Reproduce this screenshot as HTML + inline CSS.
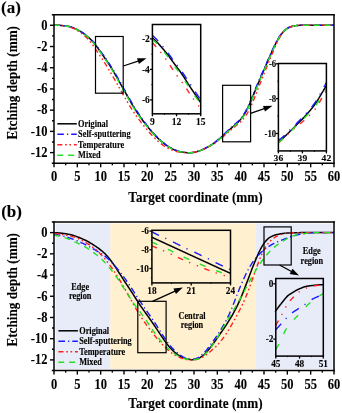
<!DOCTYPE html>
<html><head><meta charset="utf-8"><style>html,body{margin:0;padding:0;background:#fff;width:342px;height:413px;overflow:hidden}svg{display:block;will-change:transform}</style></head>
<body><svg width="342" height="413" viewBox="0 0 342 413" font-family="Liberation Serif" font-weight="bold"><rect width="342" height="413" fill="#fff"/><style>text{stroke:#000;stroke-width:0.1px;paint-order:stroke}</style><defs><clipPath id="ca"><rect x="54" y="14.7" width="280" height="148.60000000000002"/></clipPath><clipPath id="ci1"><rect x="152.4" y="24.5" width="48.29999999999998" height="89.3"/></clipPath><clipPath id="ci2"><rect x="278.4" y="63.5" width="48.0" height="87.4"/></clipPath></defs><path d="M54.00,25.30 L54.94,25.30 L55.87,25.30 L56.81,25.30 L57.75,25.31 L58.68,25.34 L59.62,25.37 L60.56,25.42 L61.49,25.48 L62.43,25.56 L63.36,25.64 L64.30,25.75 L65.24,25.87 L66.17,26.01 L67.11,26.18 L68.05,26.36 L68.98,26.57 L69.92,26.81 L70.86,27.07 L71.79,27.36 L72.73,27.67 L73.67,28.02 L74.60,28.40 L75.54,28.81 L76.47,29.25 L77.41,29.72 L78.35,30.22 L79.28,30.75 L80.22,31.31 L81.16,31.90 L82.09,32.52 L83.03,33.16 L83.97,33.82 L84.90,34.51 L85.84,35.23 L86.78,35.97 L87.71,36.75 L88.65,37.56 L89.59,38.41 L90.52,39.30 L91.46,40.24 L92.39,41.23 L93.33,42.27 L94.27,43.37 L95.20,44.53 L96.14,45.75 L97.08,47.02 L98.01,48.33 L98.95,49.67 L99.89,51.02 L100.82,52.38 L101.76,53.72 L102.70,55.06 L103.63,56.38 L104.57,57.71 L105.51,59.05 L106.44,60.41 L107.38,61.80 L108.31,63.22 L109.25,64.67 L110.19,66.15 L111.12,67.65 L112.06,69.18 L113.00,70.74 L113.93,72.32 L114.87,73.93 L115.81,75.56 L116.74,77.20 L117.68,78.85 L118.62,80.51 L119.55,82.17 L120.49,83.83 L121.42,85.50 L122.36,87.17 L123.30,88.84 L124.23,90.52 L125.17,92.19 L126.11,93.87 L127.04,95.55 L127.98,97.22 L128.92,98.88 L129.85,100.53 L130.79,102.16 L131.73,103.76 L132.66,105.35 L133.60,106.90 L134.54,108.43 L135.47,109.91 L136.41,111.37 L137.34,112.79 L138.28,114.18 L139.22,115.54 L140.15,116.87 L141.09,118.18 L142.03,119.47 L142.96,120.74 L143.90,121.98 L144.84,123.21 L145.77,124.42 L146.71,125.62 L147.65,126.79 L148.58,127.95 L149.52,129.09 L150.45,130.20 L151.39,131.29 L152.33,132.37 L153.26,133.41 L154.20,134.43 L155.14,135.43 L156.07,136.40 L157.01,137.34 L157.95,138.26 L158.88,139.15 L159.82,140.01 L160.76,140.85 L161.69,141.66 L162.63,142.44 L163.57,143.19 L164.50,143.91 L165.44,144.61 L166.37,145.28 L167.31,145.92 L168.25,146.53 L169.18,147.11 L170.12,147.67 L171.06,148.19 L171.99,148.68 L172.93,149.14 L173.87,149.57 L174.80,149.96 L175.74,150.33 L176.68,150.66 L177.61,150.96 L178.55,151.24 L179.48,151.49 L180.42,151.71 L181.36,151.90 L182.29,152.08 L183.23,152.23 L184.17,152.37 L185.10,152.48 L186.04,152.57 L186.98,152.64 L187.91,152.69 L188.85,152.71 L189.79,152.71 L190.72,152.68 L191.66,152.61 L192.60,152.52 L193.53,152.39 L194.47,152.23 L195.40,152.04 L196.34,151.82 L197.28,151.57 L198.21,151.28 L199.15,150.97 L200.09,150.63 L201.02,150.27 L201.96,149.88 L202.90,149.47 L203.83,149.04 L204.77,148.59 L205.71,148.13 L206.64,147.64 L207.58,147.14 L208.52,146.63 L209.45,146.10 L210.39,145.54 L211.32,144.97 L212.26,144.37 L213.20,143.75 L214.13,143.10 L215.07,142.42 L216.01,141.72 L216.94,140.99 L217.88,140.23 L218.82,139.45 L219.75,138.65 L220.69,137.82 L221.63,136.98 L222.56,136.12 L223.50,135.25 L224.43,134.36 L225.37,133.48 L226.31,132.60 L227.24,131.72 L228.18,130.87 L229.12,130.02 L230.05,129.19 L230.99,128.37 L231.93,127.56 L232.86,126.76 L233.80,125.96 L234.74,125.16 L235.67,124.35 L236.61,123.52 L237.55,122.66 L238.48,121.75 L239.42,120.78 L240.35,119.74 L241.29,118.61 L242.23,117.39 L243.16,116.08 L244.10,114.66 L245.04,113.12 L245.97,111.47 L246.91,109.71 L247.85,107.84 L248.78,105.86 L249.72,103.78 L250.66,101.61 L251.59,99.39 L252.53,97.14 L253.46,94.87 L254.40,92.59 L255.34,90.32 L256.27,88.06 L257.21,85.82 L258.15,83.59 L259.08,81.38 L260.02,79.17 L260.96,76.98 L261.89,74.79 L262.83,72.62 L263.77,70.45 L264.70,68.29 L265.64,66.13 L266.58,63.97 L267.51,61.81 L268.45,59.65 L269.38,57.49 L270.32,55.34 L271.26,53.20 L272.19,51.10 L273.13,49.02 L274.07,47.00 L275.00,45.03 L275.94,43.13 L276.88,41.31 L277.81,39.59 L278.75,37.99 L279.69,36.49 L280.62,35.11 L281.56,33.84 L282.49,32.68 L283.43,31.63 L284.37,30.69 L285.30,29.86 L286.24,29.13 L287.18,28.49 L288.11,27.94 L289.05,27.47 L289.99,27.07 L290.92,26.73 L291.86,26.44 L292.80,26.20 L293.73,25.99 L294.67,25.82 L295.61,25.68 L296.54,25.57 L297.48,25.48 L298.41,25.41 L299.35,25.36 L300.29,25.33 L301.22,25.31 L302.16,25.30 L303.10,25.30 L304.03,25.30 L304.97,25.30 L305.91,25.30 L306.84,25.30 L307.78,25.30 L308.72,25.30 L309.65,25.30 L310.59,25.30 L311.53,25.30 L312.46,25.30 L313.40,25.30 L314.33,25.30 L315.27,25.30 L316.21,25.30 L317.14,25.30 L318.08,25.30 L319.02,25.30 L319.95,25.30 L320.89,25.31 L321.83,25.31 L322.76,25.31 L323.70,25.31 L324.64,25.31 L325.57,25.31 L326.51,25.31 L327.44,25.31 L328.38,25.31 L329.32,25.31 L330.25,25.31 L331.19,25.30 L332.13,25.30 L333.06,25.30 L334.00,25.30" fill="none" stroke="#000" stroke-width="1.5" clip-path="url(#ca)"/><path d="M54.00,25.30 L54.94,25.30 L55.87,25.30 L56.81,25.30 L57.75,25.31 L58.68,25.34 L59.62,25.37 L60.56,25.42 L61.49,25.48 L62.43,25.55 L63.36,25.63 L64.30,25.73 L65.24,25.85 L66.17,25.99 L67.11,26.15 L68.05,26.33 L68.98,26.53 L69.92,26.76 L70.86,27.01 L71.79,27.29 L72.73,27.60 L73.67,27.93 L74.60,28.30 L75.54,28.70 L76.47,29.12 L77.41,29.58 L78.35,30.07 L79.28,30.58 L80.22,31.13 L81.16,31.69 L82.09,32.29 L83.03,32.91 L83.97,33.56 L84.90,34.22 L85.84,34.92 L86.78,35.64 L87.71,36.39 L88.65,37.18 L89.59,38.00 L90.52,38.87 L91.46,39.78 L92.39,40.74 L93.33,41.75 L94.27,42.82 L95.20,43.95 L96.14,45.14 L97.08,46.37 L98.01,47.65 L98.95,48.95 L99.89,50.27 L100.82,51.59 L101.76,52.90 L102.70,54.20 L103.63,55.50 L104.57,56.80 L105.51,58.11 L106.44,59.44 L107.38,60.81 L108.31,62.20 L109.25,63.62 L110.19,65.07 L111.12,66.55 L112.06,68.06 L113.00,69.59 L113.93,71.16 L114.87,72.75 L115.81,74.36 L116.74,75.98 L117.68,77.62 L118.62,79.26 L119.55,80.91 L120.49,82.57 L121.42,84.23 L122.36,85.89 L123.30,87.57 L124.23,89.24 L125.17,90.93 L126.11,92.61 L127.04,94.29 L127.98,95.97 L128.92,97.65 L129.85,99.31 L130.79,100.95 L131.73,102.58 L132.66,104.18 L133.60,105.75 L134.54,107.30 L135.47,108.81 L136.41,110.28 L137.34,111.73 L138.28,113.14 L139.22,114.53 L140.15,115.89 L141.09,117.23 L142.03,118.54 L142.96,119.84 L143.90,121.11 L144.84,122.37 L145.77,123.61 L146.71,124.83 L147.65,126.04 L148.58,127.22 L149.52,128.39 L150.45,129.53 L151.39,130.66 L152.33,131.76 L153.26,132.83 L154.20,133.88 L155.14,134.91 L156.07,135.90 L157.01,136.88 L157.95,137.82 L158.88,138.73 L159.82,139.62 L160.76,140.48 L161.69,141.32 L162.63,142.12 L163.57,142.90 L164.50,143.64 L165.44,144.36 L166.37,145.05 L167.31,145.71 L168.25,146.34 L169.18,146.94 L170.12,147.51 L171.06,148.05 L171.99,148.56 L172.93,149.03 L173.87,149.47 L174.80,149.88 L175.74,150.26 L176.68,150.60 L177.61,150.91 L178.55,151.20 L179.48,151.45 L180.42,151.68 L181.36,151.88 L182.29,152.06 L183.23,152.22 L184.17,152.36 L185.10,152.48 L186.04,152.57 L186.98,152.64 L187.91,152.69 L188.85,152.71 L189.79,152.71 L190.72,152.68 L191.66,152.61 L192.60,152.52 L193.53,152.39 L194.47,152.22 L195.40,152.02 L196.34,151.80 L197.28,151.53 L198.21,151.24 L199.15,150.92 L200.09,150.57 L201.02,150.20 L201.96,149.80 L202.90,149.37 L203.83,148.93 L204.77,148.47 L205.71,147.99 L206.64,147.49 L207.58,146.97 L208.52,146.44 L209.45,145.89 L210.39,145.32 L211.32,144.73 L212.26,144.11 L213.20,143.47 L214.13,142.80 L215.07,142.11 L216.01,141.38 L216.94,140.63 L217.88,139.85 L218.82,139.05 L219.75,138.22 L220.69,137.37 L221.63,136.50 L222.56,135.62 L223.50,134.72 L224.43,133.81 L225.37,132.90 L226.31,131.99 L227.24,131.10 L228.18,130.22 L229.12,129.35 L230.05,128.50 L230.99,127.66 L231.93,126.83 L232.86,126.00 L233.80,125.18 L234.74,124.36 L235.67,123.53 L236.61,122.68 L237.55,121.80 L238.48,120.87 L239.42,119.88 L240.35,118.81 L241.29,117.66 L242.23,116.42 L243.16,115.08 L244.10,113.63 L245.04,112.07 L245.97,110.39 L246.91,108.60 L247.85,106.70 L248.78,104.69 L249.72,102.59 L250.66,100.40 L251.59,98.16 L252.53,95.89 L253.46,93.61 L254.40,91.32 L255.34,89.05 L256.27,86.79 L257.21,84.55 L258.15,82.33 L259.08,80.12 L260.02,77.93 L260.96,75.76 L261.89,73.60 L262.83,71.45 L263.77,69.31 L264.70,67.18 L265.64,65.06 L266.58,62.94 L267.51,60.81 L268.45,58.69 L269.38,56.58 L270.32,54.48 L271.26,52.39 L272.19,50.34 L273.13,48.32 L274.07,46.35 L275.00,44.43 L275.94,42.58 L276.88,40.82 L277.81,39.15 L278.75,37.59 L279.69,36.14 L280.62,34.81 L281.56,33.57 L282.49,32.45 L283.43,31.43 L284.37,30.52 L285.30,29.71 L286.24,29.01 L287.18,28.39 L288.11,27.86 L289.05,27.40 L289.99,27.02 L290.92,26.69 L291.86,26.41 L292.80,26.17 L293.73,25.97 L294.67,25.80 L295.61,25.67 L296.54,25.56 L297.48,25.47 L298.41,25.41 L299.35,25.36 L300.29,25.33 L301.22,25.31 L302.16,25.30 L303.10,25.30 L304.03,25.30 L304.97,25.30 L305.91,25.30 L306.84,25.30 L307.78,25.30 L308.72,25.30 L309.65,25.30 L310.59,25.30 L311.53,25.30 L312.46,25.30 L313.40,25.30 L314.33,25.30 L315.27,25.30 L316.21,25.30 L317.14,25.30 L318.08,25.30 L319.02,25.30 L319.95,25.30 L320.89,25.31 L321.83,25.31 L322.76,25.31 L323.70,25.31 L324.64,25.31 L325.57,25.31 L326.51,25.31 L327.44,25.31 L328.38,25.31 L329.32,25.31 L330.25,25.31 L331.19,25.30 L332.13,25.30 L333.06,25.30 L334.00,25.30" fill="none" stroke="#1a1aff" stroke-width="1.4" stroke-dasharray="6.6 3.1 1.2 3.0" clip-path="url(#ca)"/><path d="M54.00,25.30 L54.94,25.30 L55.87,25.30 L56.81,25.30 L57.75,25.31 L58.68,25.35 L59.62,25.39 L60.56,25.45 L61.49,25.52 L62.43,25.60 L63.36,25.70 L64.30,25.83 L65.24,25.97 L66.17,26.14 L67.11,26.33 L68.05,26.55 L68.98,26.80 L69.92,27.07 L70.86,27.38 L71.79,27.72 L72.73,28.09 L73.67,28.50 L74.60,28.94 L75.54,29.42 L76.47,29.94 L77.41,30.49 L78.35,31.08 L79.28,31.71 L80.22,32.37 L81.16,33.06 L82.09,33.78 L83.03,34.53 L83.97,35.31 L84.90,36.12 L85.84,36.98 L86.78,37.87 L87.71,38.82 L88.65,39.81 L89.59,40.86 L90.52,41.98 L91.46,43.16 L92.39,44.42 L93.33,45.74 L94.27,47.12 L95.20,48.55 L96.14,50.00 L97.08,51.40 L98.01,52.80 L98.95,54.18 L99.89,55.56 L100.82,56.93 L101.76,58.30 L102.70,59.70 L103.63,61.12 L104.57,62.57 L105.51,64.06 L106.44,65.57 L107.38,67.11 L108.31,68.68 L109.25,70.28 L110.19,71.90 L111.12,73.48 L112.06,75.09 L113.00,76.70 L113.93,78.33 L114.87,79.96 L115.81,81.60 L116.74,83.24 L117.68,84.89 L118.62,86.53 L119.55,88.19 L120.49,89.84 L121.42,91.50 L122.36,93.16 L123.30,94.81 L124.23,96.47 L125.17,98.11 L126.11,99.74 L127.04,101.36 L127.98,102.96 L128.92,104.54 L129.85,106.09 L130.79,107.61 L131.73,109.09 L132.66,110.55 L133.60,111.97 L134.54,113.36 L135.47,114.72 L136.41,116.06 L137.34,117.37 L138.28,118.65 L139.22,119.91 L140.15,121.16 L141.09,122.38 L142.03,123.59 L142.96,124.78 L143.90,125.95 L144.84,127.11 L145.77,128.25 L146.71,129.36 L147.65,130.47 L148.58,131.57 L149.52,132.65 L150.45,133.70 L151.39,134.73 L152.33,135.73 L153.26,136.70 L154.20,137.65 L155.14,138.57 L156.07,139.46 L157.01,140.32 L157.95,141.16 L158.88,141.97 L159.82,142.74 L160.76,143.50 L161.69,144.22 L162.63,144.91 L163.57,145.57 L164.50,146.21 L165.44,146.81 L166.37,147.38 L167.31,147.90 L168.25,148.39 L169.18,148.85 L170.12,149.29 L171.06,149.69 L171.99,150.07 L172.93,150.41 L173.87,150.73 L174.80,151.01 L175.74,151.28 L176.68,151.51 L177.61,151.72 L178.55,151.91 L179.48,152.08 L180.42,152.22 L181.36,152.34 L182.29,152.44 L183.23,152.53 L184.17,152.60 L185.10,152.65 L186.04,152.69 L186.98,152.71 L187.91,152.71 L188.85,152.69 L189.79,152.65 L190.72,152.59 L191.66,152.51 L192.60,152.40 L193.53,152.26 L194.47,152.11 L195.40,151.93 L196.34,151.73 L197.28,151.51 L198.21,151.26 L199.15,150.98 L200.09,150.66 L201.02,150.32 L201.96,149.95 L202.90,149.57 L203.83,149.16 L204.77,148.74 L205.71,148.30 L206.64,147.85 L207.58,147.38 L208.52,146.90 L209.45,146.41 L210.39,145.89 L211.32,145.36 L212.26,144.81 L213.20,144.23 L214.13,143.64 L215.07,143.02 L216.01,142.37 L216.94,141.70 L217.88,141.01 L218.82,140.29 L219.75,139.55 L220.69,138.79 L221.63,138.01 L222.56,137.22 L223.50,136.40 L224.43,135.58 L225.37,134.74 L226.31,133.90 L227.24,133.07 L228.18,132.25 L229.12,131.44 L230.05,130.64 L230.99,129.86 L231.93,129.09 L232.86,128.32 L233.80,127.57 L234.74,126.82 L235.67,126.07 L236.61,125.32 L237.55,124.57 L238.48,123.80 L239.42,123.01 L240.35,122.18 L241.29,121.26 L242.23,120.26 L243.16,119.18 L244.10,118.01 L245.04,116.74 L245.97,115.37 L246.91,113.89 L247.85,112.30 L248.78,110.59 L249.72,108.77 L250.66,106.84 L251.59,104.81 L252.53,102.69 L253.46,100.49 L254.40,98.25 L255.34,95.88 L256.27,93.45 L257.21,91.02 L258.15,88.61 L259.08,86.22 L260.02,83.84 L260.96,81.47 L261.89,79.12 L262.83,76.78 L263.77,74.45 L264.70,72.14 L265.64,69.83 L266.58,67.52 L267.51,65.22 L268.45,62.92 L269.38,60.60 L270.32,58.27 L271.26,55.95 L272.19,53.65 L273.13,51.38 L274.07,49.15 L275.00,46.97 L275.94,44.86 L276.88,42.83 L277.81,40.89 L278.75,39.08 L279.69,37.39 L280.62,35.84 L281.56,34.41 L282.49,33.12 L283.43,31.95 L284.37,30.91 L285.30,29.99 L286.24,29.19 L287.18,28.50 L288.11,27.94 L289.05,27.47 L289.99,27.07 L290.92,26.73 L291.86,26.44 L292.80,26.20 L293.73,25.99 L294.67,25.82 L295.61,25.68 L296.54,25.57 L297.48,25.48 L298.41,25.41 L299.35,25.36 L300.29,25.33 L301.22,25.31 L302.16,25.30 L303.10,25.30 L304.03,25.30 L304.97,25.30 L305.91,25.30 L306.84,25.30 L307.78,25.30 L308.72,25.30 L309.65,25.30 L310.59,25.30 L311.53,25.30 L312.46,25.30 L313.40,25.30 L314.33,25.30 L315.27,25.30 L316.21,25.30 L317.14,25.30 L318.08,25.30 L319.02,25.30 L319.95,25.30 L320.89,25.31 L321.83,25.31 L322.76,25.31 L323.70,25.31 L324.64,25.31 L325.57,25.31 L326.51,25.31 L327.44,25.31 L328.38,25.31 L329.32,25.31 L330.25,25.31 L331.19,25.30 L332.13,25.30 L333.06,25.30 L334.00,25.30" fill="none" stroke="#ff2020" stroke-width="1.4" stroke-dasharray="5 2.9 1.6 2.6 1.6 2.9" clip-path="url(#ca)"/><path d="M54.00,25.30 L54.94,25.30 L55.87,25.30 L56.81,25.30 L57.75,25.31 L58.68,25.34 L59.62,25.38 L60.56,25.42 L61.49,25.49 L62.43,25.56 L63.36,25.65 L64.30,25.76 L65.24,25.88 L66.17,26.03 L67.11,26.20 L68.05,26.39 L68.98,26.60 L69.92,26.84 L70.86,27.10 L71.79,27.40 L72.73,27.72 L73.67,28.08 L74.60,28.46 L75.54,28.88 L76.47,29.33 L77.41,29.81 L78.35,30.32 L79.28,30.87 L80.22,31.44 L81.16,32.04 L82.09,32.67 L83.03,33.32 L83.97,34.00 L84.90,34.70 L85.84,35.43 L86.78,36.19 L87.71,36.98 L88.65,37.81 L89.59,38.68 L90.52,39.59 L91.46,40.54 L92.39,41.55 L93.33,42.62 L94.27,43.74 L95.20,44.92 L96.14,46.16 L97.08,47.46 L98.01,48.79 L98.95,50.15 L99.89,51.53 L100.82,52.90 L101.76,54.27 L102.70,55.62 L103.63,56.97 L104.57,58.32 L105.51,59.68 L106.44,61.06 L107.38,62.47 L108.31,63.91 L109.25,65.37 L110.19,66.86 L111.12,68.38 L112.06,69.93 L113.00,71.50 L113.93,73.10 L114.87,74.72 L115.81,76.36 L116.74,78.02 L117.68,79.67 L118.62,81.34 L119.55,83.00 L120.49,84.67 L121.42,86.34 L122.36,88.01 L123.30,89.69 L124.23,91.36 L125.17,93.04 L126.11,94.72 L127.04,96.39 L127.98,98.05 L128.92,99.70 L129.85,101.34 L130.79,102.96 L131.73,104.56 L132.66,106.13 L133.60,107.67 L134.54,109.18 L135.47,110.65 L136.41,112.09 L137.34,113.49 L138.28,114.87 L139.22,116.21 L140.15,117.53 L141.09,118.82 L142.03,120.09 L142.96,121.34 L143.90,122.56 L144.84,123.77 L145.77,124.97 L146.71,126.14 L147.65,127.30 L148.58,128.43 L149.52,129.55 L150.45,130.65 L151.39,131.72 L152.33,132.77 L153.26,133.80 L154.20,134.80 L155.14,135.78 L156.07,136.73 L157.01,137.66 L157.95,138.55 L158.88,139.43 L159.82,140.27 L160.76,141.09 L161.69,141.88 L162.63,142.65 L163.57,143.38 L164.50,144.09 L165.44,144.78 L166.37,145.43 L167.31,146.06 L168.25,146.66 L169.18,147.23 L170.12,147.77 L171.06,148.28 L171.99,148.76 L172.93,149.21 L173.87,149.63 L174.80,150.02 L175.74,150.38 L176.68,150.70 L177.61,151.00 L178.55,151.27 L179.48,151.51 L180.42,151.73 L181.36,151.92 L182.29,152.09 L183.23,152.24 L184.17,152.37 L185.10,152.48 L186.04,152.57 L186.98,152.64 L187.91,152.69 L188.85,152.71 L189.79,152.71 L190.72,152.68 L191.66,152.61 L192.60,152.52 L193.53,152.40 L194.47,152.24 L195.40,152.05 L196.34,151.84 L197.28,151.59 L198.21,151.31 L199.15,151.01 L200.09,150.68 L201.02,150.32 L201.96,149.94 L202.90,149.54 L203.83,149.12 L204.77,148.68 L205.71,148.22 L206.64,147.75 L207.58,147.26 L208.52,146.75 L209.45,146.23 L210.39,145.69 L211.32,145.13 L212.26,144.54 L213.20,143.93 L214.13,143.30 L215.07,142.64 L216.01,141.95 L216.94,141.23 L217.88,140.49 L218.82,139.72 L219.75,138.94 L220.69,138.13 L221.63,137.30 L222.56,136.46 L223.50,135.60 L224.43,134.73 L225.37,133.86 L226.31,133.00 L227.24,132.14 L228.18,131.30 L229.12,130.47 L230.05,129.66 L230.99,128.85 L231.93,128.06 L232.86,127.27 L233.80,126.48 L234.74,125.69 L235.67,124.89 L236.61,124.08 L237.55,123.23 L238.48,122.33 L239.42,121.38 L240.35,120.35 L241.29,119.24 L242.23,118.04 L243.16,116.74 L244.10,115.34 L245.04,113.82 L245.97,112.19 L246.91,110.45 L247.85,108.59 L248.78,106.63 L249.72,104.57 L250.66,102.42 L251.59,100.22 L252.53,97.97 L253.46,95.71 L254.40,93.44 L255.34,91.17 L256.27,88.91 L257.21,86.67 L258.15,84.43 L259.08,82.21 L260.02,79.99 L260.96,77.79 L261.89,75.59 L262.83,73.40 L263.77,71.22 L264.70,69.03 L265.64,66.85 L266.58,64.67 L267.51,62.48 L268.45,60.28 L269.38,58.09 L270.32,55.91 L271.26,53.74 L272.19,51.60 L273.13,49.49 L274.07,47.43 L275.00,45.42 L275.94,43.49 L276.88,41.64 L277.81,39.89 L278.75,38.25 L279.69,36.72 L280.62,35.31 L281.56,34.02 L282.49,32.84 L283.43,31.76 L284.37,30.80 L285.30,29.95 L286.24,29.21 L287.18,28.56 L288.11,28.00 L289.05,27.52 L289.99,27.11 L290.92,26.76 L291.86,26.47 L292.80,26.21 L293.73,26.00 L294.67,25.83 L295.61,25.69 L296.54,25.57 L297.48,25.48 L298.41,25.41 L299.35,25.37 L300.29,25.33 L301.22,25.31 L302.16,25.30 L303.10,25.30 L304.03,25.30 L304.97,25.30 L305.91,25.30 L306.84,25.30 L307.78,25.30 L308.72,25.30 L309.65,25.30 L310.59,25.30 L311.53,25.30 L312.46,25.30 L313.40,25.30 L314.33,25.30 L315.27,25.30 L316.21,25.30 L317.14,25.30 L318.08,25.30 L319.02,25.30 L319.95,25.30 L320.89,25.31 L321.83,25.31 L322.76,25.31 L323.70,25.31 L324.64,25.31 L325.57,25.31 L326.51,25.31 L327.44,25.31 L328.38,25.31 L329.32,25.31 L330.25,25.31 L331.19,25.30 L332.13,25.30 L333.06,25.30 L334.00,25.30" fill="none" stroke="#22e022" stroke-width="1.4" stroke-dasharray="5.8 5" clip-path="url(#ca)"/><line x1="54.00" y1="14.00" x2="54.00" y2="164.00" stroke="#000" stroke-width="1.5"/><line x1="334.00" y1="14.00" x2="334.00" y2="164.00" stroke="#000" stroke-width="1.5"/><line x1="51.80" y1="14.70" x2="334.70" y2="14.70" stroke="#000" stroke-width="1.5"/><line x1="51.80" y1="163.30" x2="334.70" y2="163.30" stroke="#000" stroke-width="1.5"/><line x1="50.00" y1="25.30" x2="54.00" y2="25.30" stroke="#000" stroke-width="1.4"/><line x1="52.00" y1="35.91" x2="54.00" y2="35.91" stroke="#000" stroke-width="1.4"/><line x1="50.00" y1="46.52" x2="54.00" y2="46.52" stroke="#000" stroke-width="1.4"/><line x1="52.00" y1="57.12" x2="54.00" y2="57.12" stroke="#000" stroke-width="1.4"/><line x1="50.00" y1="67.73" x2="54.00" y2="67.73" stroke="#000" stroke-width="1.4"/><line x1="52.00" y1="78.34" x2="54.00" y2="78.34" stroke="#000" stroke-width="1.4"/><line x1="50.00" y1="88.95" x2="54.00" y2="88.95" stroke="#000" stroke-width="1.4"/><line x1="52.00" y1="99.56" x2="54.00" y2="99.56" stroke="#000" stroke-width="1.4"/><line x1="50.00" y1="110.17" x2="54.00" y2="110.17" stroke="#000" stroke-width="1.4"/><line x1="52.00" y1="120.77" x2="54.00" y2="120.77" stroke="#000" stroke-width="1.4"/><line x1="50.00" y1="131.38" x2="54.00" y2="131.38" stroke="#000" stroke-width="1.4"/><line x1="52.00" y1="141.99" x2="54.00" y2="141.99" stroke="#000" stroke-width="1.4"/><line x1="50.00" y1="152.60" x2="54.00" y2="152.60" stroke="#000" stroke-width="1.4"/><line x1="54.00" y1="163.30" x2="54.00" y2="167.30" stroke="#000" stroke-width="1.4"/><line x1="65.67" y1="163.30" x2="65.67" y2="165.30" stroke="#000" stroke-width="1.4"/><line x1="77.33" y1="163.30" x2="77.33" y2="167.30" stroke="#000" stroke-width="1.4"/><line x1="89.00" y1="163.30" x2="89.00" y2="165.30" stroke="#000" stroke-width="1.4"/><line x1="100.67" y1="163.30" x2="100.67" y2="167.30" stroke="#000" stroke-width="1.4"/><line x1="112.33" y1="163.30" x2="112.33" y2="165.30" stroke="#000" stroke-width="1.4"/><line x1="124.00" y1="163.30" x2="124.00" y2="167.30" stroke="#000" stroke-width="1.4"/><line x1="135.67" y1="163.30" x2="135.67" y2="165.30" stroke="#000" stroke-width="1.4"/><line x1="147.33" y1="163.30" x2="147.33" y2="167.30" stroke="#000" stroke-width="1.4"/><line x1="159.00" y1="163.30" x2="159.00" y2="165.30" stroke="#000" stroke-width="1.4"/><line x1="170.67" y1="163.30" x2="170.67" y2="167.30" stroke="#000" stroke-width="1.4"/><line x1="182.33" y1="163.30" x2="182.33" y2="165.30" stroke="#000" stroke-width="1.4"/><line x1="194.00" y1="163.30" x2="194.00" y2="167.30" stroke="#000" stroke-width="1.4"/><line x1="205.67" y1="163.30" x2="205.67" y2="165.30" stroke="#000" stroke-width="1.4"/><line x1="217.33" y1="163.30" x2="217.33" y2="167.30" stroke="#000" stroke-width="1.4"/><line x1="229.00" y1="163.30" x2="229.00" y2="165.30" stroke="#000" stroke-width="1.4"/><line x1="240.67" y1="163.30" x2="240.67" y2="167.30" stroke="#000" stroke-width="1.4"/><line x1="252.33" y1="163.30" x2="252.33" y2="165.30" stroke="#000" stroke-width="1.4"/><line x1="264.00" y1="163.30" x2="264.00" y2="167.30" stroke="#000" stroke-width="1.4"/><line x1="275.67" y1="163.30" x2="275.67" y2="165.30" stroke="#000" stroke-width="1.4"/><line x1="287.33" y1="163.30" x2="287.33" y2="167.30" stroke="#000" stroke-width="1.4"/><line x1="299.00" y1="163.30" x2="299.00" y2="165.30" stroke="#000" stroke-width="1.4"/><line x1="310.67" y1="163.30" x2="310.67" y2="167.30" stroke="#000" stroke-width="1.4"/><line x1="322.33" y1="163.30" x2="322.33" y2="165.30" stroke="#000" stroke-width="1.4"/><line x1="334.00" y1="163.30" x2="334.00" y2="167.30" stroke="#000" stroke-width="1.4"/><text x="0" y="0" font-size="12.5" text-anchor="end" transform="translate(47.50,29.55) scale(1.0,1.13)" >0</text><text x="0" y="0" font-size="12.5" text-anchor="end" transform="translate(47.50,50.77) scale(1.0,1.13)" >-2</text><text x="0" y="0" font-size="12.5" text-anchor="end" transform="translate(47.50,71.98) scale(1.0,1.13)" >-4</text><text x="0" y="0" font-size="12.5" text-anchor="end" transform="translate(47.50,93.20) scale(1.0,1.13)" >-6</text><text x="0" y="0" font-size="12.5" text-anchor="end" transform="translate(47.50,114.42) scale(1.0,1.13)" >-8</text><text x="0" y="0" font-size="12.5" text-anchor="end" transform="translate(47.50,135.63) scale(1.0,1.13)" >-10</text><text x="0" y="0" font-size="12.5" text-anchor="end" transform="translate(47.50,156.85) scale(1.0,1.13)" >-12</text><text x="0" y="0" font-size="12.5" text-anchor="middle" transform="translate(54.00,181.30) scale(1.0,1.13)" >0</text><text x="0" y="0" font-size="12.5" text-anchor="middle" transform="translate(77.33,181.30) scale(1.0,1.13)" >5</text><text x="0" y="0" font-size="12.5" text-anchor="middle" transform="translate(100.67,181.30) scale(1.0,1.13)" >10</text><text x="0" y="0" font-size="12.5" text-anchor="middle" transform="translate(124.00,181.30) scale(1.0,1.13)" >15</text><text x="0" y="0" font-size="12.5" text-anchor="middle" transform="translate(147.33,181.30) scale(1.0,1.13)" >20</text><text x="0" y="0" font-size="12.5" text-anchor="middle" transform="translate(170.67,181.30) scale(1.0,1.13)" >25</text><text x="0" y="0" font-size="12.5" text-anchor="middle" transform="translate(194.00,181.30) scale(1.0,1.13)" >30</text><text x="0" y="0" font-size="12.5" text-anchor="middle" transform="translate(217.33,181.30) scale(1.0,1.13)" >35</text><text x="0" y="0" font-size="12.5" text-anchor="middle" transform="translate(240.67,181.30) scale(1.0,1.13)" >40</text><text x="0" y="0" font-size="12.5" text-anchor="middle" transform="translate(264.00,181.30) scale(1.0,1.13)" >45</text><text x="0" y="0" font-size="12.5" text-anchor="middle" transform="translate(287.33,181.30) scale(1.0,1.13)" >50</text><text x="0" y="0" font-size="12.5" text-anchor="middle" transform="translate(310.67,181.30) scale(1.0,1.13)" >55</text><text x="0" y="0" font-size="12.5" text-anchor="middle" transform="translate(334.00,181.30) scale(1.0,1.13)" >60</text><rect x="95.50" y="36.50" width="27.70" height="56.70" fill="none" stroke="#000" stroke-width="1.2"/><line x1="123.20" y1="66.00" x2="138.90" y2="60.81" stroke="#000" stroke-width="1.3"/><polygon points="146.50,58.30 138.90,63.97 137.01,58.28" fill="#000"/><rect x="222.60" y="85.30" width="28.00" height="56.50" fill="none" stroke="#000" stroke-width="1.2"/><line x1="250.60" y1="113.30" x2="264.93" y2="108.39" stroke="#000" stroke-width="1.3"/><polygon points="272.50,105.80 264.96,111.55 263.01,105.88" fill="#000"/><path d="M152.40,37.88 L152.66,38.11 L152.91,38.35 L153.17,38.58 L153.43,38.82 L153.69,39.05 L153.94,39.29 L154.20,39.52 L154.46,39.76 L154.72,40.00 L154.97,40.24 L155.23,40.48 L155.49,40.73 L155.74,40.97 L156.00,41.22 L156.26,41.47 L156.52,41.73 L156.77,41.98 L157.03,42.24 L157.29,42.51 L157.55,42.77 L157.80,43.04 L158.06,43.31 L158.32,43.59 L158.57,43.87 L158.83,44.15 L159.09,44.44 L159.35,44.72 L159.60,45.01 L159.86,45.31 L160.12,45.60 L160.38,45.90 L160.63,46.19 L160.89,46.49 L161.15,46.79 L161.41,47.09 L161.66,47.39 L161.92,47.69 L162.18,47.98 L162.43,48.28 L162.69,48.58 L162.95,48.87 L163.21,49.17 L163.46,49.46 L163.72,49.76 L163.98,50.05 L164.24,50.35 L164.49,50.65 L164.75,50.95 L165.01,51.25 L165.26,51.56 L165.52,51.87 L165.78,52.18 L166.04,52.50 L166.29,52.82 L166.55,53.14 L166.81,53.47 L167.07,53.80 L167.32,54.14 L167.58,54.48 L167.84,54.82 L168.09,55.16 L168.35,55.51 L168.61,55.86 L168.87,56.22 L169.12,56.57 L169.38,56.93 L169.64,57.29 L169.90,57.64 L170.15,58.00 L170.41,58.36 L170.67,58.72 L170.92,59.08 L171.18,59.44 L171.44,59.80 L171.70,60.16 L171.95,60.51 L172.21,60.87 L172.47,61.23 L172.73,61.58 L172.98,61.93 L173.24,62.28 L173.50,62.63 L173.75,62.97 L174.01,63.32 L174.27,63.66 L174.53,64.00 L174.78,64.34 L175.04,64.68 L175.30,65.03 L175.56,65.37 L175.81,65.71 L176.07,66.05 L176.33,66.39 L176.58,66.73 L176.84,67.07 L177.10,67.41 L177.36,67.75 L177.61,68.10 L177.87,68.44 L178.13,68.79 L178.39,69.14 L178.64,69.49 L178.90,69.84 L179.16,70.20 L179.42,70.55 L179.67,70.91 L179.93,71.27 L180.19,71.63 L180.44,71.99 L180.70,72.36 L180.96,72.73 L181.22,73.10 L181.47,73.47 L181.73,73.85 L181.99,74.23 L182.25,74.61 L182.50,74.99 L182.76,75.38 L183.02,75.76 L183.27,76.15 L183.53,76.54 L183.79,76.94 L184.05,77.33 L184.30,77.73 L184.56,78.13 L184.82,78.53 L185.08,78.93 L185.33,79.33 L185.59,79.74 L185.85,80.14 L186.10,80.55 L186.36,80.96 L186.62,81.36 L186.88,81.77 L187.13,82.18 L187.39,82.59 L187.65,82.99 L187.91,83.40 L188.16,83.81 L188.42,84.21 L188.68,84.62 L188.93,85.02 L189.19,85.42 L189.45,85.82 L189.71,86.22 L189.96,86.62 L190.22,87.02 L190.48,87.42 L190.74,87.81 L190.99,88.20 L191.25,88.60 L191.51,88.99 L191.76,89.38 L192.02,89.77 L192.28,90.15 L192.54,90.54 L192.79,90.92 L193.05,91.30 L193.31,91.68 L193.57,92.06 L193.82,92.44 L194.08,92.82 L194.34,93.19 L194.59,93.57 L194.85,93.95 L195.11,94.32 L195.37,94.70 L195.62,95.07 L195.88,95.44 L196.14,95.82 L196.40,96.19 L196.65,96.57 L196.91,96.95 L197.17,97.32 L197.43,97.70 L197.68,98.08 L197.94,98.46 L198.20,98.83 L198.45,99.21 L198.71,99.59 L198.97,99.97 L199.23,100.36 L199.48,100.74 L199.74,101.12 L200.00,101.50 L200.26,101.88 L200.51,102.26 L200.77,102.65 L201.03,103.03 L201.28,103.41 L201.54,103.79 L201.80,104.17 L202.06,104.55 L202.31,104.93 L202.57,105.31 L202.83,105.69 L203.09,106.07 L203.34,106.45 L203.60,106.83" fill="none" stroke="#000" stroke-width="1.5" clip-path="url(#ci1)"/><path d="M152.40,35.39 L152.66,35.63 L152.91,35.87 L153.17,36.11 L153.43,36.34 L153.69,36.59 L153.94,36.83 L154.20,37.07 L154.46,37.31 L154.72,37.56 L154.97,37.80 L155.23,38.05 L155.49,38.30 L155.74,38.55 L156.00,38.81 L156.26,39.06 L156.52,39.32 L156.77,39.58 L157.03,39.85 L157.29,40.12 L157.55,40.39 L157.80,40.66 L158.06,40.94 L158.32,41.22 L158.57,41.50 L158.83,41.79 L159.09,42.08 L159.35,42.38 L159.60,42.67 L159.86,42.97 L160.12,43.27 L160.38,43.57 L160.63,43.87 L160.89,44.18 L161.15,44.48 L161.41,44.78 L161.66,45.09 L161.92,45.39 L162.18,45.69 L162.43,46.00 L162.69,46.30 L162.95,46.60 L163.21,46.90 L163.46,47.20 L163.72,47.50 L163.98,47.80 L164.24,48.11 L164.49,48.41 L164.75,48.72 L165.01,49.03 L165.26,49.34 L165.52,49.65 L165.78,49.97 L166.04,50.29 L166.29,50.61 L166.55,50.94 L166.81,51.28 L167.07,51.61 L167.32,51.96 L167.58,52.30 L167.84,52.65 L168.09,53.00 L168.35,53.36 L168.61,53.71 L168.87,54.07 L169.12,54.43 L169.38,54.79 L169.64,55.16 L169.90,55.52 L170.15,55.89 L170.41,56.25 L170.67,56.62 L170.92,56.98 L171.18,57.35 L171.44,57.71 L171.70,58.07 L171.95,58.44 L172.21,58.80 L172.47,59.16 L172.73,59.51 L172.98,59.87 L173.24,60.22 L173.50,60.57 L173.75,60.92 L174.01,61.27 L174.27,61.61 L174.53,61.95 L174.78,62.29 L175.04,62.63 L175.30,62.97 L175.56,63.31 L175.81,63.65 L176.07,63.98 L176.33,64.32 L176.58,64.65 L176.84,64.98 L177.10,65.32 L177.36,65.65 L177.61,65.98 L177.87,66.32 L178.13,66.65 L178.39,66.98 L178.64,67.32 L178.90,67.65 L179.16,67.99 L179.42,68.33 L179.67,68.66 L179.93,69.01 L180.19,69.35 L180.44,69.69 L180.70,70.04 L180.96,70.39 L181.22,70.74 L181.47,71.09 L181.73,71.45 L181.99,71.80 L182.25,72.16 L182.50,72.53 L182.76,72.89 L183.02,73.26 L183.27,73.63 L183.53,74.00 L183.79,74.38 L184.05,74.75 L184.30,75.13 L184.56,75.51 L184.82,75.89 L185.08,76.27 L185.33,76.66 L185.59,77.04 L185.85,77.43 L186.10,77.81 L186.36,78.20 L186.62,78.59 L186.88,78.98 L187.13,79.38 L187.39,79.77 L187.65,80.16 L187.91,80.55 L188.16,80.95 L188.42,81.34 L188.68,81.74 L188.93,82.13 L189.19,82.52 L189.45,82.92 L189.71,83.31 L189.96,83.71 L190.22,84.10 L190.48,84.50 L190.74,84.89 L190.99,85.28 L191.25,85.68 L191.51,86.07 L191.76,86.46 L192.02,86.85 L192.28,87.24 L192.54,87.63 L192.79,88.02 L193.05,88.41 L193.31,88.80 L193.57,89.18 L193.82,89.57 L194.08,89.96 L194.34,90.34 L194.59,90.73 L194.85,91.11 L195.11,91.49 L195.37,91.88 L195.62,92.26 L195.88,92.65 L196.14,93.03 L196.40,93.42 L196.65,93.80 L196.91,94.19 L197.17,94.58 L197.43,94.96 L197.68,95.35 L197.94,95.74 L198.20,96.13 L198.45,96.52 L198.71,96.91 L198.97,97.30 L199.23,97.69 L199.48,98.08 L199.74,98.47 L200.00,98.86 L200.26,99.26 L200.51,99.65 L200.77,100.04 L201.03,100.43 L201.28,100.82 L201.54,101.21 L201.80,101.60 L202.06,101.99 L202.31,102.38 L202.57,102.77 L202.83,103.16 L203.09,103.55 L203.34,103.94 L203.60,104.33" fill="none" stroke="#1a1aff" stroke-width="1.4" stroke-dasharray="8.1 6.8 1.2 7.5" clip-path="url(#ci1)"/><path d="M152.40,42.74 L152.66,43.01 L152.91,43.27 L153.17,43.54 L153.43,43.81 L153.69,44.09 L153.94,44.36 L154.20,44.63 L154.46,44.90 L154.72,45.18 L154.97,45.46 L155.23,45.73 L155.49,46.01 L155.74,46.30 L156.00,46.58 L156.26,46.87 L156.52,47.16 L156.77,47.45 L157.03,47.75 L157.29,48.04 L157.55,48.34 L157.80,48.65 L158.06,48.96 L158.32,49.27 L158.57,49.58 L158.83,49.90 L159.09,50.23 L159.35,50.55 L159.60,50.88 L159.86,51.21 L160.12,51.54 L160.38,51.87 L160.63,52.20 L160.89,52.54 L161.15,52.87 L161.41,53.21 L161.66,53.55 L161.92,53.88 L162.18,54.22 L162.43,54.56 L162.69,54.89 L162.95,55.23 L163.21,55.56 L163.46,55.90 L163.72,56.23 L163.98,56.57 L164.24,56.91 L164.49,57.25 L164.75,57.60 L165.01,57.94 L165.26,58.29 L165.52,58.64 L165.78,58.99 L166.04,59.35 L166.29,59.71 L166.55,60.08 L166.81,60.45 L167.07,60.82 L167.32,61.20 L167.58,61.58 L167.84,61.97 L168.09,62.36 L168.35,62.75 L168.61,63.14 L168.87,63.53 L169.12,63.93 L169.38,64.32 L169.64,64.72 L169.90,65.12 L170.15,65.51 L170.41,65.91 L170.67,66.31 L170.92,66.70 L171.18,67.10 L171.44,67.49 L171.70,67.89 L171.95,68.28 L172.21,68.67 L172.47,69.06 L172.73,69.45 L172.98,69.84 L173.24,70.22 L173.50,70.60 L173.75,70.99 L174.01,71.37 L174.27,71.74 L174.53,72.12 L174.78,72.49 L175.04,72.86 L175.30,73.23 L175.56,73.60 L175.81,73.96 L176.07,74.33 L176.33,74.69 L176.58,75.04 L176.84,75.40 L177.10,75.75 L177.36,76.10 L177.61,76.45 L177.87,76.80 L178.13,77.14 L178.39,77.48 L178.64,77.83 L178.90,78.17 L179.16,78.51 L179.42,78.85 L179.67,79.19 L179.93,79.53 L180.19,79.87 L180.44,80.21 L180.70,80.55 L180.96,80.90 L181.22,81.24 L181.47,81.59 L181.73,81.94 L181.99,82.29 L182.25,82.64 L182.50,83.00 L182.76,83.35 L183.02,83.71 L183.27,84.07 L183.53,84.43 L183.79,84.80 L184.05,85.16 L184.30,85.53 L184.56,85.90 L184.82,86.28 L185.08,86.65 L185.33,87.03 L185.59,87.41 L185.85,87.79 L186.10,88.17 L186.36,88.56 L186.62,88.94 L186.88,89.33 L187.13,89.72 L187.39,90.11 L187.65,90.49 L187.91,90.88 L188.16,91.27 L188.42,91.66 L188.68,92.04 L188.93,92.43 L189.19,92.81 L189.45,93.20 L189.71,93.58 L189.96,93.96 L190.22,94.34 L190.48,94.72 L190.74,95.10 L190.99,95.48 L191.25,95.85 L191.51,96.22 L191.76,96.60 L192.02,96.96 L192.28,97.33 L192.54,97.70 L192.79,98.06 L193.05,98.42 L193.31,98.77 L193.57,99.13 L193.82,99.48 L194.08,99.83 L194.34,100.18 L194.59,100.53 L194.85,100.88 L195.11,101.22 L195.37,101.57 L195.62,101.91 L195.88,102.25 L196.14,102.59 L196.40,102.93 L196.65,103.27 L196.91,103.61 L197.17,103.95 L197.43,104.29 L197.68,104.63 L197.94,104.97 L198.20,105.31 L198.45,105.65 L198.71,105.99 L198.97,106.32 L199.23,106.66 L199.48,107.00 L199.74,107.34 L200.00,107.68 L200.26,108.02 L200.51,108.35 L200.77,108.69 L201.03,109.03 L201.28,109.37 L201.54,109.71 L201.80,110.04 L202.06,110.38 L202.31,110.72 L202.57,111.06 L202.83,111.40 L203.09,111.74 L203.34,112.07 L203.60,112.41" fill="none" stroke="#ff2020" stroke-width="1.4" stroke-dasharray="5.6 6.5 1.3 7.1 1.3 6.8" clip-path="url(#ci1)"/><path d="M152.40,39.39 L152.66,39.63 L152.91,39.87 L153.17,40.11 L153.43,40.36 L153.69,40.60 L153.94,40.84 L154.20,41.09 L154.46,41.33 L154.72,41.58 L154.97,41.83 L155.23,42.08 L155.49,42.33 L155.74,42.58 L156.00,42.84 L156.26,43.10 L156.52,43.36 L156.77,43.62 L157.03,43.89 L157.29,44.16 L157.55,44.43 L157.80,44.71 L158.06,44.99 L158.32,45.27 L158.57,45.56 L158.83,45.85 L159.09,46.14 L159.35,46.44 L159.60,46.74 L159.86,47.04 L160.12,47.34 L160.38,47.64 L160.63,47.95 L160.89,48.25 L161.15,48.56 L161.41,48.86 L161.66,49.17 L161.92,49.47 L162.18,49.78 L162.43,50.08 L162.69,50.39 L162.95,50.69 L163.21,50.99 L163.46,51.30 L163.72,51.60 L163.98,51.90 L164.24,52.21 L164.49,52.51 L164.75,52.82 L165.01,53.13 L165.26,53.45 L165.52,53.76 L165.78,54.08 L166.04,54.41 L166.29,54.73 L166.55,55.06 L166.81,55.40 L167.07,55.74 L167.32,56.08 L167.58,56.43 L167.84,56.78 L168.09,57.13 L168.35,57.49 L168.61,57.85 L168.87,58.21 L169.12,58.57 L169.38,58.94 L169.64,59.30 L169.90,59.67 L170.15,60.03 L170.41,60.40 L170.67,60.77 L170.92,61.14 L171.18,61.50 L171.44,61.87 L171.70,62.23 L171.95,62.60 L172.21,62.96 L172.47,63.32 L172.73,63.68 L172.98,64.04 L173.24,64.40 L173.50,64.75 L173.75,65.11 L174.01,65.46 L174.27,65.81 L174.53,66.15 L174.78,66.50 L175.04,66.85 L175.30,67.19 L175.56,67.54 L175.81,67.88 L176.07,68.23 L176.33,68.57 L176.58,68.92 L176.84,69.26 L177.10,69.61 L177.36,69.95 L177.61,70.30 L177.87,70.65 L178.13,70.99 L178.39,71.34 L178.64,71.70 L178.90,72.05 L179.16,72.40 L179.42,72.76 L179.67,73.11 L179.93,73.47 L180.19,73.83 L180.44,74.20 L180.70,74.56 L180.96,74.93 L181.22,75.30 L181.47,75.67 L181.73,76.05 L181.99,76.43 L182.25,76.81 L182.50,77.19 L182.76,77.58 L183.02,77.96 L183.27,78.35 L183.53,78.75 L183.79,79.14 L184.05,79.53 L184.30,79.93 L184.56,80.33 L184.82,80.73 L185.08,81.13 L185.33,81.54 L185.59,81.94 L185.85,82.35 L186.10,82.75 L186.36,83.16 L186.62,83.57 L186.88,83.98 L187.13,84.39 L187.39,84.79 L187.65,85.20 L187.91,85.61 L188.16,86.01 L188.42,86.42 L188.68,86.82 L188.93,87.23 L189.19,87.63 L189.45,88.03 L189.71,88.42 L189.96,88.82 L190.22,89.21 L190.48,89.61 L190.74,90.00 L190.99,90.39 L191.25,90.77 L191.51,91.16 L191.76,91.54 L192.02,91.91 L192.28,92.29 L192.54,92.66 L192.79,93.03 L193.05,93.40 L193.31,93.77 L193.57,94.13 L193.82,94.49 L194.08,94.85 L194.34,95.20 L194.59,95.56 L194.85,95.91 L195.11,96.26 L195.37,96.62 L195.62,96.97 L195.88,97.32 L196.14,97.67 L196.40,98.02 L196.65,98.37 L196.91,98.72 L197.17,99.07 L197.43,99.43 L197.68,99.78 L197.94,100.13 L198.20,100.49 L198.45,100.85 L198.71,101.20 L198.97,101.56 L199.23,101.92 L199.48,102.27 L199.74,102.63 L200.00,102.99 L200.26,103.35 L200.51,103.71 L200.77,104.06 L201.03,104.42 L201.28,104.78 L201.54,105.14 L201.80,105.50 L202.06,105.85 L202.31,106.21 L202.57,106.57 L202.83,106.92 L203.09,107.28 L203.34,107.63 L203.60,107.99" fill="none" stroke="#22e022" stroke-width="1.4" stroke-dasharray="6.2 11.4" clip-path="url(#ci1)"/><rect x="152.40" y="24.50" width="48.30" height="89.30" fill="none" stroke="#000" stroke-width="1.5"/><line x1="149.90" y1="38.90" x2="152.40" y2="38.90" stroke="#000" stroke-width="1.3"/><text x="0" y="0" font-size="9.5" text-anchor="end" transform="translate(149.80,42.20) scale(1.0,1.13)" >-2</text><line x1="149.90" y1="69.40" x2="152.40" y2="69.40" stroke="#000" stroke-width="1.3"/><text x="0" y="0" font-size="9.5" text-anchor="end" transform="translate(149.80,72.70) scale(1.0,1.13)" >-4</text><line x1="149.90" y1="99.90" x2="152.40" y2="99.90" stroke="#000" stroke-width="1.3"/><text x="0" y="0" font-size="9.5" text-anchor="end" transform="translate(149.80,103.20) scale(1.0,1.13)" >-6</text><line x1="151.40" y1="54.15" x2="152.40" y2="54.15" stroke="#000" stroke-width="1.0"/><line x1="151.40" y1="84.65" x2="152.40" y2="84.65" stroke="#000" stroke-width="1.0"/><line x1="152.40" y1="113.80" x2="152.40" y2="116.30" stroke="#000" stroke-width="1.3"/><text x="0" y="0" font-size="9.5" text-anchor="middle" transform="translate(152.40,125.30) scale(1.0,1.13)" >9</text><line x1="176.55" y1="113.80" x2="176.55" y2="116.30" stroke="#000" stroke-width="1.3"/><text x="0" y="0" font-size="9.5" text-anchor="middle" transform="translate(176.55,125.30) scale(1.0,1.13)" >12</text><line x1="200.70" y1="113.80" x2="200.70" y2="116.30" stroke="#000" stroke-width="1.3"/><text x="0" y="0" font-size="9.5" text-anchor="middle" transform="translate(200.70,125.30) scale(1.0,1.13)" >15</text><line x1="164.47" y1="113.80" x2="164.47" y2="114.80" stroke="#000" stroke-width="1.0"/><line x1="188.62" y1="113.80" x2="188.62" y2="114.80" stroke="#000" stroke-width="1.0"/><path d="M278.40,141.92 L278.66,141.72 L278.91,141.53 L279.17,141.33 L279.43,141.13 L279.68,140.93 L279.94,140.73 L280.19,140.53 L280.45,140.33 L280.71,140.13 L280.96,139.92 L281.22,139.72 L281.48,139.51 L281.73,139.30 L281.99,139.09 L282.24,138.87 L282.50,138.65 L282.76,138.43 L283.01,138.21 L283.27,137.98 L283.53,137.76 L283.78,137.52 L284.04,137.29 L284.29,137.05 L284.55,136.80 L284.81,136.56 L285.06,136.31 L285.32,136.05 L285.58,135.80 L285.83,135.55 L286.09,135.29 L286.34,135.03 L286.60,134.78 L286.86,134.52 L287.11,134.27 L287.37,134.01 L287.63,133.76 L287.88,133.51 L288.14,133.26 L288.39,133.02 L288.65,132.77 L288.91,132.53 L289.16,132.28 L289.42,132.04 L289.68,131.80 L289.93,131.56 L290.19,131.31 L290.45,131.07 L290.70,130.82 L290.96,130.57 L291.21,130.32 L291.47,130.07 L291.73,129.82 L291.98,129.56 L292.24,129.31 L292.50,129.05 L292.75,128.79 L293.01,128.53 L293.26,128.26 L293.52,128.00 L293.78,127.74 L294.03,127.47 L294.29,127.21 L294.55,126.94 L294.80,126.67 L295.06,126.41 L295.31,126.14 L295.57,125.88 L295.83,125.62 L296.08,125.35 L296.34,125.09 L296.60,124.83 L296.85,124.57 L297.11,124.31 L297.36,124.06 L297.62,123.80 L297.88,123.54 L298.13,123.29 L298.39,123.03 L298.65,122.77 L298.90,122.52 L299.16,122.26 L299.42,122.01 L299.67,121.75 L299.93,121.50 L300.18,121.24 L300.44,120.98 L300.70,120.72 L300.95,120.47 L301.21,120.21 L301.47,119.95 L301.72,119.68 L301.98,119.42 L302.23,119.16 L302.49,118.89 L302.75,118.62 L303.00,118.36 L303.26,118.09 L303.52,117.81 L303.77,117.54 L304.03,117.27 L304.28,116.99 L304.54,116.71 L304.80,116.44 L305.05,116.16 L305.31,115.88 L305.57,115.60 L305.82,115.31 L306.08,115.03 L306.33,114.75 L306.59,114.46 L306.85,114.17 L307.10,113.89 L307.36,113.60 L307.62,113.31 L307.87,113.02 L308.13,112.73 L308.38,112.44 L308.64,112.14 L308.90,111.85 L309.15,111.55 L309.41,111.25 L309.67,110.95 L309.92,110.65 L310.18,110.35 L310.44,110.05 L310.69,109.74 L310.95,109.43 L311.20,109.12 L311.46,108.81 L311.72,108.49 L311.97,108.17 L312.23,107.85 L312.49,107.53 L312.74,107.20 L313.00,106.88 L313.25,106.54 L313.51,106.21 L313.77,105.87 L314.02,105.53 L314.28,105.18 L314.54,104.83 L314.79,104.48 L315.05,104.12 L315.30,103.75 L315.56,103.38 L315.82,103.01 L316.07,102.63 L316.33,102.25 L316.59,101.86 L316.84,101.46 L317.10,101.06 L317.35,100.66 L317.61,100.25 L317.87,99.83 L318.12,99.41 L318.38,98.99 L318.64,98.57 L318.89,98.14 L319.15,97.71 L319.41,97.28 L319.66,96.84 L319.92,96.41 L320.17,95.97 L320.43,95.53 L320.69,95.09 L320.94,94.65 L321.20,94.22 L321.46,93.78 L321.71,93.34 L321.97,92.91 L322.22,92.48 L322.48,92.04 L322.74,91.62 L322.99,91.19 L323.25,90.76 L323.51,90.34 L323.76,89.91 L324.02,89.49 L324.27,89.07 L324.53,88.64 L324.79,88.22 L325.04,87.80 L325.30,87.38 L325.56,86.97 L325.81,86.55 L326.07,86.13 L326.32,85.71 L326.58,85.29 L326.84,84.87 L327.09,84.46 L327.35,84.04 L327.61,83.62 L327.86,83.20 L328.12,82.78 L328.37,82.36 L328.63,81.94 L328.89,81.51 L329.14,81.09 L329.40,80.66" fill="none" stroke="#000" stroke-width="1.5" clip-path="url(#ci2)"/><path d="M278.40,140.52 L278.66,140.32 L278.91,140.12 L279.17,139.93 L279.43,139.73 L279.68,139.53 L279.94,139.33 L280.19,139.13 L280.45,138.92 L280.71,138.72 L280.96,138.52 L281.22,138.31 L281.48,138.10 L281.73,137.89 L281.99,137.68 L282.24,137.46 L282.50,137.24 L282.76,137.02 L283.01,136.80 L283.27,136.57 L283.53,136.34 L283.78,136.11 L284.04,135.87 L284.29,135.63 L284.55,135.38 L284.81,135.14 L285.06,134.89 L285.32,134.63 L285.58,134.38 L285.83,134.13 L286.09,133.87 L286.34,133.61 L286.60,133.35 L286.86,133.10 L287.11,132.84 L287.37,132.59 L287.63,132.34 L287.88,132.08 L288.14,131.84 L288.39,131.59 L288.65,131.34 L288.91,131.10 L289.16,130.85 L289.42,130.61 L289.68,130.37 L289.93,130.12 L290.19,129.88 L290.45,129.63 L290.70,129.39 L290.96,129.14 L291.21,128.89 L291.47,128.64 L291.73,128.38 L291.98,128.13 L292.24,127.87 L292.50,127.61 L292.75,127.35 L293.01,127.09 L293.26,126.82 L293.52,126.56 L293.78,126.29 L294.03,126.03 L294.29,125.76 L294.55,125.50 L294.80,125.23 L295.06,124.96 L295.31,124.70 L295.57,124.43 L295.83,124.17 L296.08,123.90 L296.34,123.64 L296.60,123.38 L296.85,123.12 L297.11,122.86 L297.36,122.60 L297.62,122.35 L297.88,122.09 L298.13,121.83 L298.39,121.57 L298.65,121.32 L298.90,121.06 L299.16,120.81 L299.42,120.55 L299.67,120.29 L299.93,120.04 L300.18,119.78 L300.44,119.52 L300.70,119.26 L300.95,119.00 L301.21,118.74 L301.47,118.48 L301.72,118.22 L301.98,117.96 L302.23,117.69 L302.49,117.43 L302.75,117.16 L303.00,116.89 L303.26,116.62 L303.52,116.34 L303.77,116.07 L304.03,115.80 L304.28,115.52 L304.54,115.24 L304.80,114.96 L305.05,114.68 L305.31,114.40 L305.57,114.12 L305.82,113.84 L306.08,113.55 L306.33,113.27 L306.59,112.98 L306.85,112.70 L307.10,112.41 L307.36,112.12 L307.62,111.83 L307.87,111.54 L308.13,111.25 L308.38,110.96 L308.64,110.67 L308.90,110.37 L309.15,110.08 L309.41,109.78 L309.67,109.48 L309.92,109.18 L310.18,108.87 L310.44,108.57 L310.69,108.26 L310.95,107.95 L311.20,107.64 L311.46,107.32 L311.72,107.00 L311.97,106.68 L312.23,106.36 L312.49,106.04 L312.74,105.71 L313.00,105.37 L313.25,105.04 L313.51,104.70 L313.77,104.35 L314.02,104.01 L314.28,103.65 L314.54,103.29 L314.79,102.93 L315.05,102.56 L315.30,102.19 L315.56,101.81 L315.82,101.42 L316.07,101.03 L316.33,100.63 L316.59,100.22 L316.84,99.81 L317.10,99.39 L317.35,98.96 L317.61,98.53 L317.87,98.10 L318.12,97.65 L318.38,97.21 L318.64,96.76 L318.89,96.30 L319.15,95.84 L319.41,95.38 L319.66,94.92 L319.92,94.45 L320.17,93.98 L320.43,93.51 L320.69,93.04 L320.94,92.56 L321.20,92.09 L321.46,91.61 L321.71,91.14 L321.97,90.67 L322.22,90.20 L322.48,89.72 L322.74,89.25 L322.99,88.78 L323.25,88.32 L323.51,87.85 L323.76,87.38 L324.02,86.91 L324.27,86.45 L324.53,85.98 L324.79,85.52 L325.04,85.05 L325.30,84.59 L325.56,84.12 L325.81,83.66 L326.07,83.19 L326.32,82.73 L326.58,82.27 L326.84,81.80 L327.09,81.34 L327.35,80.87 L327.61,80.41 L327.86,79.94 L328.12,79.48 L328.37,79.01 L328.63,78.55 L328.89,78.08 L329.14,77.61 L329.40,77.15" fill="none" stroke="#1a1aff" stroke-width="1.4" stroke-dasharray="8.1 6.8 1.2 7.5" clip-path="url(#ci2)"/><path d="M278.40,142.62 L278.66,142.43 L278.91,142.23 L279.17,142.04 L279.43,141.84 L279.68,141.65 L279.94,141.45 L280.19,141.25 L280.45,141.05 L280.71,140.85 L280.96,140.65 L281.22,140.44 L281.48,140.24 L281.73,140.03 L281.99,139.82 L282.24,139.61 L282.50,139.39 L282.76,139.17 L283.01,138.95 L283.27,138.73 L283.53,138.50 L283.78,138.27 L284.04,138.03 L284.29,137.79 L284.55,137.55 L284.81,137.31 L285.06,137.06 L285.32,136.81 L285.58,136.56 L285.83,136.30 L286.09,136.05 L286.34,135.80 L286.60,135.54 L286.86,135.29 L287.11,135.04 L287.37,134.79 L287.63,134.54 L287.88,134.29 L288.14,134.05 L288.39,133.81 L288.65,133.57 L288.91,133.33 L289.16,133.10 L289.42,132.86 L289.68,132.63 L289.93,132.39 L290.19,132.16 L290.45,131.93 L290.70,131.69 L290.96,131.46 L291.21,131.23 L291.47,130.99 L291.73,130.76 L291.98,130.52 L292.24,130.28 L292.50,130.05 L292.75,129.81 L293.01,129.57 L293.26,129.34 L293.52,129.10 L293.78,128.87 L294.03,128.63 L294.29,128.40 L294.55,128.17 L294.80,127.94 L295.06,127.71 L295.31,127.48 L295.57,127.26 L295.83,127.04 L296.08,126.82 L296.34,126.60 L296.60,126.39 L296.85,126.18 L297.11,125.97 L297.36,125.77 L297.62,125.56 L297.88,125.36 L298.13,125.16 L298.39,124.96 L298.65,124.76 L298.90,124.56 L299.16,124.37 L299.42,124.17 L299.67,123.97 L299.93,123.78 L300.18,123.58 L300.44,123.38 L300.70,123.18 L300.95,122.98 L301.21,122.78 L301.47,122.58 L301.72,122.38 L301.98,122.17 L302.23,121.97 L302.49,121.76 L302.75,121.55 L303.00,121.33 L303.26,121.12 L303.52,120.90 L303.77,120.68 L304.03,120.45 L304.28,120.23 L304.54,120.00 L304.80,119.77 L305.05,119.54 L305.31,119.31 L305.57,119.08 L305.82,118.85 L306.08,118.61 L306.33,118.38 L306.59,118.14 L306.85,117.90 L307.10,117.66 L307.36,117.42 L307.62,117.18 L307.87,116.94 L308.13,116.69 L308.38,116.45 L308.64,116.20 L308.90,115.96 L309.15,115.71 L309.41,115.46 L309.67,115.21 L309.92,114.96 L310.18,114.70 L310.44,114.45 L310.69,114.19 L310.95,113.93 L311.20,113.67 L311.46,113.41 L311.72,113.15 L311.97,112.88 L312.23,112.61 L312.49,112.34 L312.74,112.07 L313.00,111.79 L313.25,111.50 L313.51,111.21 L313.77,110.92 L314.02,110.62 L314.28,110.32 L314.54,110.01 L314.79,109.69 L315.05,109.36 L315.30,109.03 L315.56,108.68 L315.82,108.33 L316.07,107.97 L316.33,107.60 L316.59,107.22 L316.84,106.83 L317.10,106.43 L317.35,106.01 L317.61,105.59 L317.87,105.17 L318.12,104.73 L318.38,104.29 L318.64,103.84 L318.89,103.39 L319.15,102.93 L319.41,102.46 L319.66,102.00 L319.92,101.53 L320.17,101.06 L320.43,100.59 L320.69,100.11 L320.94,99.64 L321.20,99.17 L321.46,98.70 L321.71,98.23 L321.97,97.76 L322.22,97.30 L322.48,96.84 L322.74,96.38 L322.99,95.93 L323.25,95.48 L323.51,95.03 L323.76,94.58 L324.02,94.14 L324.27,93.70 L324.53,93.26 L324.79,92.82 L325.04,92.38 L325.30,91.94 L325.56,91.51 L325.81,91.07 L326.07,90.64 L326.32,90.20 L326.58,89.77 L326.84,89.33 L327.09,88.90 L327.35,88.46 L327.61,88.03 L327.86,87.59 L328.12,87.15 L328.37,86.71 L328.63,86.27 L328.89,85.83 L329.14,85.38 L329.40,84.94" fill="none" stroke="#ff2020" stroke-width="1.4" stroke-dasharray="5.6 6.5 1.3 7.1 1.3 6.8" clip-path="url(#ci2)"/><path d="M278.40,142.42 L278.66,142.22 L278.91,142.03 L279.17,141.83 L279.43,141.63 L279.68,141.43 L279.94,141.23 L280.19,141.03 L280.45,140.83 L280.71,140.63 L280.96,140.42 L281.22,140.22 L281.48,140.01 L281.73,139.80 L281.99,139.59 L282.24,139.37 L282.50,139.15 L282.76,138.93 L283.01,138.71 L283.27,138.49 L283.53,138.26 L283.78,138.02 L284.04,137.79 L284.29,137.55 L284.55,137.30 L284.81,137.06 L285.06,136.81 L285.32,136.56 L285.58,136.30 L285.83,136.05 L286.09,135.79 L286.34,135.54 L286.60,135.28 L286.86,135.02 L287.11,134.77 L287.37,134.51 L287.63,134.26 L287.88,134.01 L288.14,133.76 L288.39,133.52 L288.65,133.27 L288.91,133.03 L289.16,132.78 L289.42,132.54 L289.68,132.30 L289.93,132.05 L290.19,131.81 L290.45,131.56 L290.70,131.31 L290.96,131.07 L291.21,130.82 L291.47,130.56 L291.73,130.31 L291.98,130.05 L292.24,129.79 L292.50,129.53 L292.75,129.27 L293.01,129.01 L293.26,128.75 L293.52,128.48 L293.78,128.22 L294.03,127.96 L294.29,127.69 L294.55,127.43 L294.80,127.17 L295.06,126.91 L295.31,126.65 L295.57,126.39 L295.83,126.14 L296.08,125.88 L296.34,125.63 L296.60,125.38 L296.85,125.14 L297.11,124.89 L297.36,124.65 L297.62,124.41 L297.88,124.17 L298.13,123.93 L298.39,123.69 L298.65,123.46 L298.90,123.22 L299.16,122.99 L299.42,122.76 L299.67,122.52 L299.93,122.29 L300.18,122.05 L300.44,121.82 L300.70,121.59 L300.95,121.35 L301.21,121.12 L301.47,120.88 L301.72,120.64 L301.98,120.40 L302.23,120.16 L302.49,119.92 L302.75,119.67 L303.00,119.43 L303.26,119.18 L303.52,118.93 L303.77,118.68 L304.03,118.43 L304.28,118.17 L304.54,117.92 L304.80,117.66 L305.05,117.41 L305.31,117.15 L305.57,116.89 L305.82,116.63 L306.08,116.37 L306.33,116.11 L306.59,115.85 L306.85,115.58 L307.10,115.32 L307.36,115.06 L307.62,114.80 L307.87,114.53 L308.13,114.27 L308.38,114.00 L308.64,113.74 L308.90,113.47 L309.15,113.20 L309.41,112.93 L309.67,112.66 L309.92,112.39 L310.18,112.12 L310.44,111.84 L310.69,111.57 L310.95,111.29 L311.20,111.01 L311.46,110.73 L311.72,110.44 L311.97,110.15 L312.23,109.87 L312.49,109.58 L312.74,109.28 L313.00,108.98 L313.25,108.68 L313.51,108.38 L313.77,108.07 L314.02,107.76 L314.28,107.45 L314.54,107.13 L314.79,106.80 L315.05,106.47 L315.30,106.14 L315.56,105.80 L315.82,105.45 L316.07,105.10 L316.33,104.74 L316.59,104.38 L316.84,104.01 L317.10,103.63 L317.35,103.25 L317.61,102.87 L317.87,102.47 L318.12,102.08 L318.38,101.68 L318.64,101.27 L318.89,100.86 L319.15,100.45 L319.41,100.04 L319.66,99.63 L319.92,99.21 L320.17,98.79 L320.43,98.37 L320.69,97.95 L320.94,97.53 L321.20,97.11 L321.46,96.69 L321.71,96.27 L321.97,95.85 L322.22,95.43 L322.48,95.02 L322.74,94.60 L322.99,94.19 L323.25,93.78 L323.51,93.37 L323.76,92.96 L324.02,92.55 L324.27,92.14 L324.53,91.74 L324.79,91.33 L325.04,90.93 L325.30,90.52 L325.56,90.12 L325.81,89.71 L326.07,89.31 L326.32,88.91 L326.58,88.50 L326.84,88.10 L327.09,87.70 L327.35,87.29 L327.61,86.89 L327.86,86.48 L328.12,86.08 L328.37,85.67 L328.63,85.27 L328.89,84.86 L329.14,84.45 L329.40,84.04" fill="none" stroke="#22e022" stroke-width="1.4" stroke-dasharray="6.2 11.4" clip-path="url(#ci2)"/><rect x="278.40" y="63.50" width="48.00" height="87.40" fill="none" stroke="#000" stroke-width="1.5"/><line x1="275.90" y1="63.80" x2="278.40" y2="63.80" stroke="#000" stroke-width="1.3"/><text x="0" y="0" font-size="8.8" text-anchor="end" transform="translate(276.20,66.80) scale(1.0,1.13)" >-6</text><line x1="275.90" y1="98.65" x2="278.40" y2="98.65" stroke="#000" stroke-width="1.3"/><text x="0" y="0" font-size="8.8" text-anchor="end" transform="translate(276.20,101.65) scale(1.0,1.13)" >-8</text><line x1="275.90" y1="133.50" x2="278.40" y2="133.50" stroke="#000" stroke-width="1.3"/><text x="0" y="0" font-size="8.8" text-anchor="end" transform="translate(276.20,136.50) scale(1.0,1.13)" >-10</text><line x1="277.40" y1="81.22" x2="278.40" y2="81.22" stroke="#000" stroke-width="1.0"/><line x1="277.40" y1="116.08" x2="278.40" y2="116.08" stroke="#000" stroke-width="1.0"/><line x1="277.40" y1="150.93" x2="278.40" y2="150.93" stroke="#000" stroke-width="1.0"/><line x1="278.40" y1="150.90" x2="278.40" y2="153.40" stroke="#000" stroke-width="1.3"/><text x="0" y="0" font-size="8" text-anchor="middle" transform="translate(278.40,161.00) scale(1.2,1.13)" >36</text><line x1="302.40" y1="150.90" x2="302.40" y2="153.40" stroke="#000" stroke-width="1.3"/><text x="0" y="0" font-size="8" text-anchor="middle" transform="translate(302.40,161.00) scale(1.2,1.13)" >39</text><line x1="326.40" y1="150.90" x2="326.40" y2="153.40" stroke="#000" stroke-width="1.3"/><text x="0" y="0" font-size="8" text-anchor="middle" transform="translate(326.40,161.00) scale(1.2,1.13)" >42</text><line x1="290.40" y1="150.90" x2="290.40" y2="151.90" stroke="#000" stroke-width="1.0"/><line x1="314.40" y1="150.90" x2="314.40" y2="151.90" stroke="#000" stroke-width="1.0"/><path d="M57.30,123.80 H76.80" fill="none" stroke="#000" stroke-width="1.5"/><text x="0" y="0" font-size="8.3" text-anchor="start" transform="translate(78.10,126.70) scale(1.0,1.13)" >Original</text><path d="M57.30,134.30 H76.80" fill="none" stroke="#1a1aff" stroke-width="1.4" stroke-dasharray="6.6 3.1 1.2 3.0"/><text x="0" y="0" font-size="8.3" text-anchor="start" transform="translate(78.10,137.20) scale(1.0,1.13)" >Self-sputtering</text><path d="M57.30,144.80 H76.80" fill="none" stroke="#ff2020" stroke-width="1.4" stroke-dasharray="5 2.9 1.6 2.6 1.6 2.9"/><text x="0" y="0" font-size="8.3" text-anchor="start" transform="translate(78.10,147.70) scale(1.0,1.13)" >Temperature</text><path d="M57.30,155.30 H76.80" fill="none" stroke="#22e022" stroke-width="1.4" stroke-dasharray="5.8 5"/><text x="0" y="0" font-size="8.3" text-anchor="start" transform="translate(78.10,158.20) scale(1.0,1.13)" >Mixed</text><text x="0" y="0" font-size="17" text-anchor="start" transform="translate(1.00,12.90) scale(1.0,1.0)" >(a)</text><text x="0" y="0" font-size="13.2" text-anchor="middle" transform="translate(17.0,82.8) rotate(-90) scale(1,1.13)">Etching depth (mm)</text><text x="0" y="0" font-size="13.2" text-anchor="middle" transform="translate(195.50,201.70) scale(1.0,1.13)" >Target coordinate (mm)</text><rect x="55.6" y="223.5" width="54.699999999999996" height="145.5" fill="#e8ebf8"/><rect x="110.3" y="223.5" width="145.8" height="145.5" fill="#fff0cf"/><rect x="256.1" y="223.5" width="76.5" height="145.5" fill="#e8ebf8"/><defs><clipPath id="cb"><rect x="54" y="222.0" width="280" height="148.60000000000002"/></clipPath><clipPath id="cj1"><rect x="151.9" y="230.3" width="78.6" height="52.599999999999966"/></clipPath><clipPath id="cj2"><rect x="275.8" y="278.5" width="47.5" height="77.60000000000002"/></clipPath></defs><text x="0" y="0" font-size="8.3" text-anchor="middle" transform="translate(80.20,289.60) scale(1.0,1.13)" >Edge</text><text x="0" y="0" font-size="8.3" text-anchor="middle" transform="translate(80.20,298.80) scale(1.0,1.13)" >region</text><text x="0" y="0" font-size="8.3" text-anchor="middle" transform="translate(192.00,318.60) scale(1.0,1.13)" >Central</text><text x="0" y="0" font-size="8.3" text-anchor="middle" transform="translate(192.00,327.80) scale(1.0,1.13)" >region</text><text x="0" y="0" font-size="8.3" text-anchor="middle" transform="translate(311.80,254.40) scale(1.0,1.13)" >Edge</text><text x="0" y="0" font-size="8.3" text-anchor="middle" transform="translate(311.80,263.60) scale(1.0,1.13)" >region</text><path d="M54.00,232.60 L54.94,232.63 L55.87,232.71 L56.81,232.78 L57.75,232.86 L58.68,232.94 L59.62,233.03 L60.56,233.12 L61.49,233.22 L62.43,233.33 L63.36,233.44 L64.30,233.57 L65.24,233.71 L66.17,233.85 L67.11,234.02 L68.05,234.19 L68.98,234.38 L69.92,234.59 L70.86,234.81 L71.79,235.04 L72.73,235.30 L73.67,235.57 L74.60,235.85 L75.54,236.16 L76.47,236.48 L77.41,236.83 L78.35,237.18 L79.28,237.55 L80.22,237.93 L81.16,238.32 L82.09,238.72 L83.03,239.13 L83.97,239.56 L84.90,240.00 L85.84,240.46 L86.78,240.94 L87.71,241.43 L88.65,241.95 L89.59,242.48 L90.52,243.03 L91.46,243.59 L92.39,244.17 L93.33,244.77 L94.27,245.38 L95.20,246.00 L96.14,246.64 L97.08,247.28 L98.01,247.94 L98.95,248.62 L99.89,249.32 L100.82,250.05 L101.76,250.80 L102.70,251.60 L103.63,252.43 L104.57,253.32 L105.51,254.25 L106.44,255.24 L107.38,256.29 L108.31,257.38 L109.25,258.52 L110.19,259.71 L111.12,260.94 L112.06,262.22 L113.00,263.55 L113.93,264.90 L114.87,266.29 L115.81,267.71 L116.74,269.14 L117.68,270.58 L118.62,272.04 L119.55,273.49 L120.49,274.96 L121.42,276.42 L122.36,277.89 L123.30,279.35 L124.23,280.81 L125.17,282.26 L126.11,283.69 L127.04,285.12 L127.98,286.53 L128.92,287.93 L129.85,289.33 L130.79,290.73 L131.73,292.15 L132.66,293.58 L133.60,295.04 L134.54,296.52 L135.47,298.00 L136.41,299.48 L137.34,300.95 L138.28,302.40 L139.22,303.82 L140.15,305.22 L141.09,306.59 L142.03,307.94 L142.96,309.28 L143.90,310.60 L144.84,311.91 L145.77,313.22 L146.71,314.53 L147.65,315.84 L148.58,317.15 L149.52,318.47 L150.45,319.80 L151.39,321.14 L152.33,322.49 L153.26,323.86 L154.20,325.23 L155.14,326.63 L156.07,328.04 L157.01,329.45 L157.95,330.87 L158.88,332.29 L159.82,333.71 L160.76,335.12 L161.69,336.52 L162.63,337.90 L163.57,339.26 L164.50,340.59 L165.44,341.88 L166.37,343.14 L167.31,344.36 L168.25,345.53 L169.18,346.66 L170.12,347.74 L171.06,348.77 L171.99,349.75 L172.93,350.67 L173.87,351.54 L174.80,352.35 L175.74,353.12 L176.68,353.83 L177.61,354.50 L178.55,355.13 L179.48,355.71 L180.42,356.26 L181.36,356.76 L182.29,357.22 L183.23,357.64 L184.17,358.02 L185.10,358.36 L186.04,358.67 L186.98,358.93 L187.91,359.16 L188.85,359.34 L189.79,359.48 L190.72,359.58 L191.66,359.63 L192.60,359.63 L193.53,359.57 L194.47,359.47 L195.40,359.31 L196.34,359.09 L197.28,358.81 L198.21,358.46 L199.15,358.04 L200.09,357.55 L201.02,356.99 L201.96,356.35 L202.90,355.63 L203.83,354.84 L204.77,353.98 L205.71,353.05 L206.64,352.06 L207.58,351.01 L208.52,349.89 L209.45,348.73 L210.39,347.53 L211.32,346.29 L212.26,345.02 L213.20,343.73 L214.13,342.42 L215.07,341.09 L216.01,339.76 L216.94,338.42 L217.88,337.07 L218.82,335.73 L219.75,334.39 L220.69,333.05 L221.63,331.71 L222.56,330.35 L223.50,328.99 L224.43,327.61 L225.37,326.21 L226.31,324.79 L227.24,323.34 L228.18,321.88 L229.12,320.39 L230.05,318.88 L230.99,317.34 L231.93,315.77 L232.86,314.15 L233.80,312.47 L234.74,310.74 L235.67,308.95 L236.61,307.09 L237.55,305.16 L238.48,303.16 L239.42,301.08 L240.35,298.93 L241.29,296.72 L242.23,294.44 L243.16,292.11 L244.10,289.73 L245.04,287.31 L245.97,284.86 L246.91,282.38 L247.85,279.89 L248.78,277.39 L249.72,274.90 L250.66,272.43 L251.59,269.98 L252.53,267.57 L253.46,265.19 L254.40,262.87 L255.34,260.60 L256.27,258.38 L257.21,256.22 L258.15,254.14 L259.08,252.13 L260.02,250.22 L260.96,248.41 L261.89,246.71 L262.83,245.13 L263.77,243.68 L264.70,242.36 L265.64,241.18 L266.58,240.13 L267.51,239.20 L268.45,238.39 L269.38,237.69 L270.32,237.07 L271.26,236.55 L272.19,236.09 L273.13,235.70 L274.07,235.36 L275.00,235.06 L275.94,234.80 L276.88,234.57 L277.81,234.37 L278.75,234.17 L279.69,234.00 L280.62,233.84 L281.56,233.70 L282.49,233.57 L283.43,233.46 L284.37,233.36 L285.30,233.27 L286.24,233.19 L287.18,233.12 L288.11,233.06 L289.05,233.01 L289.99,232.96 L290.92,232.92 L291.86,232.88 L292.80,232.84 L293.73,232.81 L294.67,232.78 L295.61,232.75 L296.54,232.72 L297.48,232.69 L298.41,232.67 L299.35,232.64 L300.29,232.62 L301.22,232.60 L302.16,232.60 L303.10,232.60 L304.03,232.60 L304.97,232.60 L305.91,232.60 L306.84,232.60 L307.78,232.60 L308.72,232.60 L309.65,232.60 L310.59,232.60 L311.53,232.60 L312.46,232.60 L313.40,232.60 L314.33,232.60 L315.27,232.60 L316.21,232.60 L317.14,232.60 L318.08,232.60 L319.02,232.60 L319.95,232.60 L320.89,232.60 L321.83,232.60 L322.76,232.60 L323.70,232.60 L324.64,232.60 L325.57,232.60 L326.51,232.60 L327.44,232.60 L328.38,232.60 L329.32,232.60 L330.25,232.60 L331.19,232.60 L332.13,232.60 L333.06,232.60 L334.00,232.60" fill="none" stroke="#000" stroke-width="1.5" clip-path="url(#cb)"/><path d="M54.00,233.74 L54.94,233.96 L55.87,234.19 L56.81,234.41 L57.75,234.64 L58.68,234.87 L59.62,235.10 L60.56,235.34 L61.49,235.59 L62.43,235.83 L63.36,236.09 L64.30,236.35 L65.24,236.63 L66.17,236.91 L67.11,237.19 L68.05,237.49 L68.98,237.80 L69.92,238.12 L70.86,238.44 L71.79,238.78 L72.73,239.12 L73.67,239.47 L74.60,239.83 L75.54,240.20 L76.47,240.58 L77.41,240.96 L78.35,241.36 L79.28,241.76 L80.22,242.17 L81.16,242.60 L82.09,243.03 L83.03,243.47 L83.97,243.91 L84.90,244.37 L85.84,244.84 L86.78,245.32 L87.71,245.81 L88.65,246.32 L89.59,246.83 L90.52,247.35 L91.46,247.88 L92.39,248.41 L93.33,248.94 L94.27,249.47 L95.20,250.00 L96.14,250.53 L97.08,251.07 L98.01,251.61 L98.95,252.17 L99.89,252.73 L100.82,253.31 L101.76,253.91 L102.70,254.53 L103.63,255.19 L104.57,255.88 L105.51,256.60 L106.44,257.37 L107.38,258.19 L108.31,259.05 L109.25,259.95 L110.19,260.89 L111.12,261.85 L112.06,262.85 L113.00,263.86 L113.93,264.89 L114.87,265.94 L115.81,267.01 L116.74,268.08 L117.68,269.18 L118.62,270.30 L119.55,271.44 L120.49,272.61 L121.42,273.81 L122.36,275.03 L123.30,276.29 L124.23,277.57 L125.17,278.87 L126.11,280.20 L127.04,281.55 L127.98,282.91 L128.92,284.29 L129.85,285.69 L130.79,287.09 L131.73,288.51 L132.66,289.93 L133.60,291.36 L134.54,292.79 L135.47,294.22 L136.41,295.66 L137.34,297.10 L138.28,298.54 L139.22,299.97 L140.15,301.40 L141.09,302.81 L142.03,304.21 L142.96,305.59 L143.90,306.96 L144.84,308.31 L145.77,309.66 L146.71,311.00 L147.65,312.32 L148.58,313.65 L149.52,314.98 L150.45,316.32 L151.39,317.67 L152.33,319.03 L153.26,320.41 L154.20,321.82 L155.14,323.24 L156.07,324.68 L157.01,326.14 L157.95,327.62 L158.88,329.10 L159.82,330.59 L160.76,332.09 L161.69,333.58 L162.63,335.05 L163.57,336.50 L164.50,337.93 L165.44,339.33 L166.37,340.69 L167.31,342.00 L168.25,343.26 L169.18,344.47 L170.12,345.62 L171.06,346.72 L171.99,347.78 L172.93,348.78 L173.87,349.74 L174.80,350.65 L175.74,351.52 L176.68,352.35 L177.61,353.14 L178.55,353.88 L179.48,354.59 L180.42,355.26 L181.36,355.88 L182.29,356.46 L183.23,357.00 L184.17,357.48 L185.10,357.91 L186.04,358.29 L186.98,358.62 L187.91,358.89 L188.85,359.10 L189.79,359.24 L190.72,359.33 L191.66,359.34 L192.60,359.29 L193.53,359.18 L194.47,358.99 L195.40,358.73 L196.34,358.41 L197.28,358.00 L198.21,357.53 L199.15,356.98 L200.09,356.35 L201.02,355.64 L201.96,354.85 L202.90,353.99 L203.83,353.05 L204.77,352.04 L205.71,350.98 L206.64,349.86 L207.58,348.69 L208.52,347.48 L209.45,346.24 L210.39,344.97 L211.32,343.68 L212.26,342.38 L213.20,341.08 L214.13,339.77 L215.07,338.45 L216.01,337.11 L216.94,335.73 L217.88,334.33 L218.82,332.89 L219.75,331.41 L220.69,329.90 L221.63,328.36 L222.56,326.80 L223.50,325.20 L224.43,323.56 L225.37,321.88 L226.31,320.13 L227.24,318.31 L228.18,316.41 L229.12,314.43 L230.05,312.36 L230.99,310.19 L231.93,307.93 L232.86,305.59 L233.80,303.21 L234.74,300.79 L235.67,298.35 L236.61,295.93 L237.55,293.53 L238.48,291.17 L239.42,288.86 L240.35,286.58 L241.29,284.35 L242.23,282.17 L243.16,280.04 L244.10,277.97 L245.04,275.95 L245.97,274.00 L246.91,272.11 L247.85,270.30 L248.78,268.56 L249.72,266.89 L250.66,265.31 L251.59,263.81 L252.53,262.38 L253.46,261.03 L254.40,259.76 L255.34,258.56 L256.27,257.43 L257.21,256.36 L258.15,255.35 L259.08,254.39 L260.02,253.48 L260.96,252.59 L261.89,251.74 L262.83,250.93 L263.77,250.14 L264.70,249.38 L265.64,248.66 L266.58,247.96 L267.51,247.30 L268.45,246.66 L269.38,246.06 L270.32,245.48 L271.26,244.93 L272.19,244.41 L273.13,243.91 L274.07,243.44 L275.00,242.99 L275.94,242.55 L276.88,242.14 L277.81,241.73 L278.75,241.34 L279.69,240.96 L280.62,240.59 L281.56,240.22 L282.49,239.85 L283.43,239.48 L284.37,239.12 L285.30,238.76 L286.24,238.41 L287.18,238.07 L288.11,237.73 L289.05,237.39 L289.99,237.07 L290.92,236.76 L291.86,236.45 L292.80,236.15 L293.73,235.86 L294.67,235.59 L295.61,235.32 L296.54,235.07 L297.48,234.83 L298.41,234.60 L299.35,234.39 L300.29,234.19 L301.22,234.01 L302.16,233.85 L303.10,233.70 L304.03,233.56 L304.97,233.44 L305.91,233.32 L306.84,233.22 L307.78,233.13 L308.72,233.04 L309.65,232.97 L310.59,232.90 L311.53,232.84 L312.46,232.78 L313.40,232.73 L314.33,232.69 L315.27,232.65 L316.21,232.62 L317.14,232.60 L318.08,232.60 L319.02,232.60 L319.95,232.60 L320.89,232.60 L321.83,232.60 L322.76,232.60 L323.70,232.60 L324.64,232.60 L325.57,232.60 L326.51,232.60 L327.44,232.60 L328.38,232.60 L329.32,232.60 L330.25,232.60 L331.19,232.60 L332.13,232.60 L333.06,232.60 L334.00,232.60" fill="none" stroke="#1a1aff" stroke-width="1.4" stroke-dasharray="6.6 3.1 1.2 3.0" clip-path="url(#cb)"/><path d="M54.00,233.23 L54.94,233.38 L55.87,233.53 L56.81,233.68 L57.75,233.83 L58.68,233.98 L59.62,234.14 L60.56,234.29 L61.49,234.45 L62.43,234.61 L63.36,234.77 L64.30,234.93 L65.24,235.09 L66.17,235.26 L67.11,235.43 L68.05,235.61 L68.98,235.80 L69.92,235.99 L70.86,236.20 L71.79,236.42 L72.73,236.66 L73.67,236.92 L74.60,237.20 L75.54,237.50 L76.47,237.83 L77.41,238.19 L78.35,238.58 L79.28,238.99 L80.22,239.43 L81.16,239.90 L82.09,240.39 L83.03,240.90 L83.97,241.43 L84.90,241.98 L85.84,242.54 L86.78,243.11 L87.71,243.70 L88.65,244.31 L89.59,244.93 L90.52,245.57 L91.46,246.22 L92.39,246.90 L93.33,247.60 L94.27,248.33 L95.20,249.09 L96.14,249.89 L97.08,250.73 L98.01,251.60 L98.95,252.50 L99.89,253.44 L100.82,254.40 L101.76,255.39 L102.70,256.41 L103.63,257.46 L104.57,258.54 L105.51,259.65 L106.44,260.79 L107.38,261.96 L108.31,263.16 L109.25,264.39 L110.19,265.65 L111.12,266.94 L112.06,268.26 L113.00,269.61 L113.93,270.99 L114.87,272.39 L115.81,273.83 L116.74,275.29 L117.68,276.78 L118.62,278.30 L119.55,279.85 L120.49,281.41 L121.42,282.99 L122.36,284.58 L123.30,286.19 L124.23,287.80 L125.17,289.43 L126.11,291.07 L127.04,292.71 L127.98,294.37 L128.92,296.04 L129.85,297.71 L130.79,299.40 L131.73,301.10 L132.66,302.80 L133.60,304.49 L134.54,306.17 L135.47,307.82 L136.41,309.44 L137.34,311.03 L138.28,312.57 L139.22,314.08 L140.15,315.56 L141.09,317.01 L142.03,318.43 L142.96,319.82 L143.90,321.18 L144.84,322.52 L145.77,323.83 L146.71,325.12 L147.65,326.38 L148.58,327.62 L149.52,328.85 L150.45,330.07 L151.39,331.28 L152.33,332.48 L153.26,333.69 L154.20,334.89 L155.14,336.08 L156.07,337.25 L157.01,338.41 L157.95,339.56 L158.88,340.68 L159.82,341.77 L160.76,342.84 L161.69,343.88 L162.63,344.89 L163.57,345.87 L164.50,346.82 L165.44,347.73 L166.37,348.60 L167.31,349.44 L168.25,350.25 L169.18,351.02 L170.12,351.76 L171.06,352.46 L171.99,353.13 L172.93,353.77 L173.87,354.38 L174.80,354.96 L175.74,355.51 L176.68,356.02 L177.61,356.51 L178.55,356.96 L179.48,357.38 L180.42,357.77 L181.36,358.13 L182.29,358.46 L183.23,358.76 L184.17,359.03 L185.10,359.26 L186.04,359.46 L186.98,359.63 L187.91,359.77 L188.85,359.88 L189.79,359.95 L190.72,359.99 L191.66,359.99 L192.60,359.96 L193.53,359.89 L194.47,359.78 L195.40,359.64 L196.34,359.46 L197.28,359.23 L198.21,358.97 L199.15,358.66 L200.09,358.30 L201.02,357.90 L201.96,357.46 L202.90,356.97 L203.83,356.43 L204.77,355.84 L205.71,355.20 L206.64,354.52 L207.58,353.81 L208.52,353.06 L209.45,352.28 L210.39,351.49 L211.32,350.68 L212.26,349.85 L213.20,349.02 L214.13,348.18 L215.07,347.32 L216.01,346.44 L216.94,345.52 L217.88,344.56 L218.82,343.55 L219.75,342.49 L220.69,341.36 L221.63,340.18 L222.56,338.94 L223.50,337.65 L224.43,336.32 L225.37,334.94 L226.31,333.53 L227.24,332.08 L228.18,330.60 L229.12,329.08 L230.05,327.53 L230.99,325.94 L231.93,324.33 L232.86,322.69 L233.80,321.02 L234.74,319.33 L235.67,317.62 L236.61,315.88 L237.55,314.13 L238.48,312.35 L239.42,310.54 L240.35,308.70 L241.29,306.82 L242.23,304.89 L243.16,302.90 L244.10,300.85 L245.04,298.72 L245.97,296.51 L246.91,294.22 L247.85,291.83 L248.78,289.37 L249.72,286.85 L250.66,284.27 L251.59,281.64 L252.53,278.97 L253.46,276.29 L254.40,273.61 L255.34,270.94 L256.27,268.31 L257.21,265.73 L258.15,263.22 L259.08,260.79 L260.02,258.45 L260.96,256.21 L261.89,254.09 L262.83,252.10 L263.77,250.26 L264.70,248.56 L265.64,247.00 L266.58,245.59 L267.51,244.30 L268.45,243.12 L269.38,242.04 L270.32,241.06 L271.26,240.16 L272.19,239.34 L273.13,238.59 L274.07,237.91 L275.00,237.29 L275.94,236.73 L276.88,236.22 L277.81,235.77 L278.75,235.36 L279.69,234.99 L280.62,234.67 L281.56,234.38 L282.49,234.12 L283.43,233.90 L284.37,233.71 L285.30,233.54 L286.24,233.40 L287.18,233.27 L288.11,233.17 L289.05,233.07 L289.99,233.00 L290.92,232.93 L291.86,232.87 L292.80,232.82 L293.73,232.78 L294.67,232.74 L295.61,232.70 L296.54,232.68 L297.48,232.65 L298.41,232.63 L299.35,232.61 L300.29,232.60 L301.22,232.60 L302.16,232.60 L303.10,232.60 L304.03,232.60 L304.97,232.60 L305.91,232.60 L306.84,232.60 L307.78,232.60 L308.72,232.60 L309.65,232.60 L310.59,232.60 L311.53,232.60 L312.46,232.60 L313.40,232.60 L314.33,232.60 L315.27,232.60 L316.21,232.60 L317.14,232.60 L318.08,232.60 L319.02,232.60 L319.95,232.60 L320.89,232.60 L321.83,232.60 L322.76,232.60 L323.70,232.60 L324.64,232.60 L325.57,232.60 L326.51,232.60 L327.44,232.60 L328.38,232.60 L329.32,232.60 L330.25,232.60 L331.19,232.60 L332.13,232.60 L333.06,232.60 L334.00,232.60" fill="none" stroke="#ff2020" stroke-width="1.4" stroke-dasharray="5 2.9 1.6 2.6 1.6 2.9" clip-path="url(#cb)"/><path d="M54.00,235.19 L54.94,235.37 L55.87,235.56 L56.81,235.74 L57.75,235.94 L58.68,236.14 L59.62,236.35 L60.56,236.57 L61.49,236.80 L62.43,237.05 L63.36,237.31 L64.30,237.59 L65.24,237.89 L66.17,238.21 L67.11,238.55 L68.05,238.91 L68.98,239.28 L69.92,239.67 L70.86,240.07 L71.79,240.49 L72.73,240.91 L73.67,241.34 L74.60,241.77 L75.54,242.20 L76.47,242.64 L77.41,243.07 L78.35,243.50 L79.28,243.94 L80.22,244.38 L81.16,244.83 L82.09,245.29 L83.03,245.77 L83.97,246.27 L84.90,246.78 L85.84,247.33 L86.78,247.90 L87.71,248.49 L88.65,249.11 L89.59,249.74 L90.52,250.39 L91.46,251.06 L92.39,251.74 L93.33,252.43 L94.27,253.13 L95.20,253.84 L96.14,254.56 L97.08,255.29 L98.01,256.04 L98.95,256.82 L99.89,257.62 L100.82,258.45 L101.76,259.31 L102.70,260.21 L103.63,261.15 L104.57,262.12 L105.51,263.13 L106.44,264.16 L107.38,265.23 L108.31,266.33 L109.25,267.45 L110.19,268.60 L111.12,269.77 L112.06,270.96 L113.00,272.18 L113.93,273.42 L114.87,274.69 L115.81,275.99 L116.74,277.31 L117.68,278.67 L118.62,280.05 L119.55,281.46 L120.49,282.89 L121.42,284.34 L122.36,285.81 L123.30,287.29 L124.23,288.78 L125.17,290.28 L126.11,291.77 L127.04,293.26 L127.98,294.75 L128.92,296.22 L129.85,297.68 L130.79,299.11 L131.73,300.52 L132.66,301.90 L133.60,303.25 L134.54,304.57 L135.47,305.85 L136.41,307.10 L137.34,308.35 L138.28,309.59 L139.22,310.83 L140.15,312.09 L141.09,313.35 L142.03,314.63 L142.96,315.92 L143.90,317.21 L144.84,318.53 L145.77,319.86 L146.71,321.20 L147.65,322.55 L148.58,323.92 L149.52,325.30 L150.45,326.69 L151.39,328.08 L152.33,329.46 L153.26,330.83 L154.20,332.19 L155.14,333.52 L156.07,334.82 L157.01,336.10 L157.95,337.34 L158.88,338.55 L159.82,339.72 L160.76,340.85 L161.69,341.94 L162.63,343.00 L163.57,344.03 L164.50,345.02 L165.44,345.98 L166.37,346.92 L167.31,347.82 L168.25,348.70 L169.18,349.55 L170.12,350.36 L171.06,351.15 L171.99,351.90 L172.93,352.63 L173.87,353.32 L174.80,353.97 L175.74,354.60 L176.68,355.19 L177.61,355.74 L178.55,356.25 L179.48,356.72 L180.42,357.15 L181.36,357.55 L182.29,357.91 L183.23,358.24 L184.17,358.54 L185.10,358.80 L186.04,359.03 L186.98,359.22 L187.91,359.39 L188.85,359.52 L189.79,359.62 L190.72,359.68 L191.66,359.71 L192.60,359.71 L193.53,359.66 L194.47,359.58 L195.40,359.45 L196.34,359.26 L197.28,359.03 L198.21,358.73 L199.15,358.37 L200.09,357.93 L201.02,357.42 L201.96,356.81 L202.90,356.12 L203.83,355.35 L204.77,354.50 L205.71,353.58 L206.64,352.58 L207.58,351.53 L208.52,350.41 L209.45,349.24 L210.39,348.01 L211.32,346.74 L212.26,345.42 L213.20,344.05 L214.13,342.64 L215.07,341.19 L216.01,339.71 L216.94,338.19 L217.88,336.63 L218.82,335.05 L219.75,333.43 L220.69,331.80 L221.63,330.17 L222.56,328.54 L223.50,326.91 L224.43,325.31 L225.37,323.72 L226.31,322.13 L227.24,320.56 L228.18,318.99 L229.12,317.43 L230.05,315.88 L230.99,314.33 L231.93,312.77 L232.86,311.22 L233.80,309.65 L234.74,308.09 L235.67,306.51 L236.61,304.92 L237.55,303.31 L238.48,301.69 L239.42,300.05 L240.35,298.39 L241.29,296.71 L242.23,295.01 L243.16,293.29 L244.10,291.55 L245.04,289.78 L245.97,288.01 L246.91,286.22 L247.85,284.44 L248.78,282.66 L249.72,280.91 L250.66,279.18 L251.59,277.49 L252.53,275.83 L253.46,274.20 L254.40,272.59 L255.34,271.02 L256.27,269.48 L257.21,267.96 L258.15,266.48 L259.08,265.03 L260.02,263.63 L260.96,262.28 L261.89,260.98 L262.83,259.72 L263.77,258.50 L264.70,257.31 L265.64,256.16 L266.58,255.04 L267.51,253.95 L268.45,252.89 L269.38,251.87 L270.32,250.89 L271.26,249.94 L272.19,249.03 L273.13,248.17 L274.07,247.35 L275.00,246.58 L275.94,245.85 L276.88,245.15 L277.81,244.48 L278.75,243.82 L279.69,243.19 L280.62,242.57 L281.56,241.96 L282.49,241.37 L283.43,240.79 L284.37,240.23 L285.30,239.68 L286.24,239.14 L287.18,238.62 L288.11,238.12 L289.05,237.64 L289.99,237.19 L290.92,236.77 L291.86,236.38 L292.80,236.03 L293.73,235.70 L294.67,235.41 L295.61,235.15 L296.54,234.91 L297.48,234.70 L298.41,234.50 L299.35,234.32 L300.29,234.15 L301.22,233.99 L302.16,233.84 L303.10,233.70 L304.03,233.58 L304.97,233.46 L305.91,233.35 L306.84,233.25 L307.78,233.15 L308.72,233.07 L309.65,232.99 L310.59,232.92 L311.53,232.85 L312.46,232.80 L313.40,232.74 L314.33,232.70 L315.27,232.66 L316.21,232.62 L317.14,232.60 L318.08,232.60 L319.02,232.60 L319.95,232.60 L320.89,232.60 L321.83,232.60 L322.76,232.60 L323.70,232.60 L324.64,232.60 L325.57,232.60 L326.51,232.60 L327.44,232.60 L328.38,232.60 L329.32,232.60 L330.25,232.60 L331.19,232.60 L332.13,232.60 L333.06,232.60 L334.00,232.60" fill="none" stroke="#22e022" stroke-width="1.4" stroke-dasharray="5.8 5" clip-path="url(#cb)"/><line x1="54.00" y1="221.30" x2="54.00" y2="371.30" stroke="#000" stroke-width="1.5"/><line x1="334.00" y1="221.30" x2="334.00" y2="371.30" stroke="#000" stroke-width="1.5"/><line x1="51.80" y1="222.00" x2="334.70" y2="222.00" stroke="#000" stroke-width="1.5"/><line x1="51.80" y1="370.60" x2="334.70" y2="370.60" stroke="#000" stroke-width="1.5"/><line x1="50.00" y1="232.60" x2="54.00" y2="232.60" stroke="#000" stroke-width="1.4"/><line x1="52.00" y1="243.21" x2="54.00" y2="243.21" stroke="#000" stroke-width="1.4"/><line x1="50.00" y1="253.82" x2="54.00" y2="253.82" stroke="#000" stroke-width="1.4"/><line x1="52.00" y1="264.43" x2="54.00" y2="264.43" stroke="#000" stroke-width="1.4"/><line x1="50.00" y1="275.03" x2="54.00" y2="275.03" stroke="#000" stroke-width="1.4"/><line x1="52.00" y1="285.64" x2="54.00" y2="285.64" stroke="#000" stroke-width="1.4"/><line x1="50.00" y1="296.25" x2="54.00" y2="296.25" stroke="#000" stroke-width="1.4"/><line x1="52.00" y1="306.86" x2="54.00" y2="306.86" stroke="#000" stroke-width="1.4"/><line x1="50.00" y1="317.47" x2="54.00" y2="317.47" stroke="#000" stroke-width="1.4"/><line x1="52.00" y1="328.07" x2="54.00" y2="328.07" stroke="#000" stroke-width="1.4"/><line x1="50.00" y1="338.68" x2="54.00" y2="338.68" stroke="#000" stroke-width="1.4"/><line x1="52.00" y1="349.29" x2="54.00" y2="349.29" stroke="#000" stroke-width="1.4"/><line x1="50.00" y1="359.90" x2="54.00" y2="359.90" stroke="#000" stroke-width="1.4"/><line x1="54.00" y1="370.60" x2="54.00" y2="374.60" stroke="#000" stroke-width="1.4"/><line x1="65.67" y1="370.60" x2="65.67" y2="372.60" stroke="#000" stroke-width="1.4"/><line x1="77.33" y1="370.60" x2="77.33" y2="374.60" stroke="#000" stroke-width="1.4"/><line x1="89.00" y1="370.60" x2="89.00" y2="372.60" stroke="#000" stroke-width="1.4"/><line x1="100.67" y1="370.60" x2="100.67" y2="374.60" stroke="#000" stroke-width="1.4"/><line x1="112.33" y1="370.60" x2="112.33" y2="372.60" stroke="#000" stroke-width="1.4"/><line x1="124.00" y1="370.60" x2="124.00" y2="374.60" stroke="#000" stroke-width="1.4"/><line x1="135.67" y1="370.60" x2="135.67" y2="372.60" stroke="#000" stroke-width="1.4"/><line x1="147.33" y1="370.60" x2="147.33" y2="374.60" stroke="#000" stroke-width="1.4"/><line x1="159.00" y1="370.60" x2="159.00" y2="372.60" stroke="#000" stroke-width="1.4"/><line x1="170.67" y1="370.60" x2="170.67" y2="374.60" stroke="#000" stroke-width="1.4"/><line x1="182.33" y1="370.60" x2="182.33" y2="372.60" stroke="#000" stroke-width="1.4"/><line x1="194.00" y1="370.60" x2="194.00" y2="374.60" stroke="#000" stroke-width="1.4"/><line x1="205.67" y1="370.60" x2="205.67" y2="372.60" stroke="#000" stroke-width="1.4"/><line x1="217.33" y1="370.60" x2="217.33" y2="374.60" stroke="#000" stroke-width="1.4"/><line x1="229.00" y1="370.60" x2="229.00" y2="372.60" stroke="#000" stroke-width="1.4"/><line x1="240.67" y1="370.60" x2="240.67" y2="374.60" stroke="#000" stroke-width="1.4"/><line x1="252.33" y1="370.60" x2="252.33" y2="372.60" stroke="#000" stroke-width="1.4"/><line x1="264.00" y1="370.60" x2="264.00" y2="374.60" stroke="#000" stroke-width="1.4"/><line x1="275.67" y1="370.60" x2="275.67" y2="372.60" stroke="#000" stroke-width="1.4"/><line x1="287.33" y1="370.60" x2="287.33" y2="374.60" stroke="#000" stroke-width="1.4"/><line x1="299.00" y1="370.60" x2="299.00" y2="372.60" stroke="#000" stroke-width="1.4"/><line x1="310.67" y1="370.60" x2="310.67" y2="374.60" stroke="#000" stroke-width="1.4"/><line x1="322.33" y1="370.60" x2="322.33" y2="372.60" stroke="#000" stroke-width="1.4"/><line x1="334.00" y1="370.60" x2="334.00" y2="374.60" stroke="#000" stroke-width="1.4"/><text x="0" y="0" font-size="12.5" text-anchor="end" transform="translate(47.50,236.85) scale(1.0,1.13)" >0</text><text x="0" y="0" font-size="12.5" text-anchor="end" transform="translate(47.50,258.07) scale(1.0,1.13)" >-2</text><text x="0" y="0" font-size="12.5" text-anchor="end" transform="translate(47.50,279.28) scale(1.0,1.13)" >-4</text><text x="0" y="0" font-size="12.5" text-anchor="end" transform="translate(47.50,300.50) scale(1.0,1.13)" >-6</text><text x="0" y="0" font-size="12.5" text-anchor="end" transform="translate(47.50,321.72) scale(1.0,1.13)" >-8</text><text x="0" y="0" font-size="12.5" text-anchor="end" transform="translate(47.50,342.93) scale(1.0,1.13)" >-10</text><text x="0" y="0" font-size="12.5" text-anchor="end" transform="translate(47.50,364.15) scale(1.0,1.13)" >-12</text><text x="0" y="0" font-size="12.5" text-anchor="middle" transform="translate(54.00,388.60) scale(1.0,1.13)" >0</text><text x="0" y="0" font-size="12.5" text-anchor="middle" transform="translate(77.33,388.60) scale(1.0,1.13)" >5</text><text x="0" y="0" font-size="12.5" text-anchor="middle" transform="translate(100.67,388.60) scale(1.0,1.13)" >10</text><text x="0" y="0" font-size="12.5" text-anchor="middle" transform="translate(124.00,388.60) scale(1.0,1.13)" >15</text><text x="0" y="0" font-size="12.5" text-anchor="middle" transform="translate(147.33,388.60) scale(1.0,1.13)" >20</text><text x="0" y="0" font-size="12.5" text-anchor="middle" transform="translate(170.67,388.60) scale(1.0,1.13)" >25</text><text x="0" y="0" font-size="12.5" text-anchor="middle" transform="translate(194.00,388.60) scale(1.0,1.13)" >30</text><text x="0" y="0" font-size="12.5" text-anchor="middle" transform="translate(217.33,388.60) scale(1.0,1.13)" >35</text><text x="0" y="0" font-size="12.5" text-anchor="middle" transform="translate(240.67,388.60) scale(1.0,1.13)" >40</text><text x="0" y="0" font-size="12.5" text-anchor="middle" transform="translate(264.00,388.60) scale(1.0,1.13)" >45</text><text x="0" y="0" font-size="12.5" text-anchor="middle" transform="translate(287.33,388.60) scale(1.0,1.13)" >50</text><text x="0" y="0" font-size="12.5" text-anchor="middle" transform="translate(310.67,388.60) scale(1.0,1.13)" >55</text><text x="0" y="0" font-size="12.5" text-anchor="middle" transform="translate(334.00,388.60) scale(1.0,1.13)" >60</text><rect x="137.80" y="301.30" width="28.30" height="51.40" fill="none" stroke="#000" stroke-width="1.2"/><line x1="152.50" y1="301.30" x2="175.62" y2="290.81" stroke="#000" stroke-width="1.3"/><polygon points="182.90,287.50 175.94,293.95 173.46,288.49" fill="#000"/><rect x="264.00" y="226.90" width="27.20" height="38.10" fill="none" stroke="#000" stroke-width="1.2"/><line x1="279.50" y1="265.00" x2="291.97" y2="271.78" stroke="#000" stroke-width="1.3"/><polygon points="299.00,275.60 289.66,273.94 292.53,268.67" fill="#000"/><path d="M151.80,237.20 L152.21,237.39 L152.62,237.58 L153.02,237.76 L153.43,237.95 L153.84,238.14 L154.25,238.33 L154.65,238.52 L155.06,238.71 L155.47,238.89 L155.88,239.08 L156.28,239.27 L156.69,239.46 L157.10,239.65 L157.51,239.84 L157.91,240.02 L158.32,240.21 L158.73,240.40 L159.14,240.59 L159.54,240.78 L159.95,240.96 L160.36,241.15 L160.77,241.34 L161.17,241.53 L161.58,241.72 L161.99,241.91 L162.40,242.09 L162.80,242.28 L163.21,242.47 L163.62,242.66 L164.03,242.85 L164.43,243.03 L164.84,243.22 L165.25,243.41 L165.66,243.60 L166.06,243.79 L166.47,243.97 L166.88,244.16 L167.29,244.35 L167.69,244.54 L168.10,244.72 L168.51,244.91 L168.92,245.10 L169.32,245.29 L169.73,245.48 L170.14,245.66 L170.55,245.85 L170.95,246.04 L171.36,246.23 L171.77,246.41 L172.18,246.60 L172.58,246.79 L172.99,246.98 L173.40,247.17 L173.81,247.35 L174.21,247.54 L174.62,247.73 L175.03,247.92 L175.44,248.10 L175.84,248.29 L176.25,248.48 L176.66,248.67 L177.07,248.85 L177.47,249.04 L177.88,249.23 L178.29,249.42 L178.70,249.60 L179.11,249.79 L179.51,249.98 L179.92,250.16 L180.33,250.35 L180.74,250.54 L181.14,250.73 L181.55,250.91 L181.96,251.10 L182.37,251.29 L182.77,251.48 L183.18,251.66 L183.59,251.85 L184.00,252.04 L184.40,252.23 L184.81,252.41 L185.22,252.60 L185.63,252.79 L186.03,252.98 L186.44,253.16 L186.85,253.35 L187.26,253.54 L187.66,253.73 L188.07,253.91 L188.48,254.10 L188.89,254.29 L189.29,254.48 L189.70,254.66 L190.11,254.85 L190.52,255.04 L190.92,255.23 L191.33,255.41 L191.74,255.60 L192.15,255.79 L192.55,255.98 L192.96,256.16 L193.37,256.35 L193.78,256.54 L194.18,256.73 L194.59,256.91 L195.00,257.10 L195.41,257.29 L195.81,257.48 L196.22,257.66 L196.63,257.85 L197.04,258.04 L197.44,258.23 L197.85,258.41 L198.26,258.60 L198.67,258.79 L199.07,258.98 L199.48,259.16 L199.89,259.35 L200.30,259.54 L200.70,259.73 L201.11,259.92 L201.52,260.10 L201.93,260.29 L202.33,260.48 L202.74,260.67 L203.15,260.85 L203.56,261.04 L203.96,261.23 L204.37,261.41 L204.78,261.60 L205.19,261.79 L205.59,261.98 L206.00,262.16 L206.41,262.35 L206.82,262.54 L207.23,262.73 L207.63,262.91 L208.04,263.10 L208.45,263.29 L208.86,263.47 L209.26,263.66 L209.67,263.85 L210.08,264.04 L210.49,264.22 L210.89,264.41 L211.30,264.60 L211.71,264.78 L212.12,264.97 L212.52,265.16 L212.93,265.34 L213.34,265.53 L213.75,265.72 L214.15,265.90 L214.56,266.09 L214.97,266.28 L215.38,266.46 L215.78,266.65 L216.19,266.84 L216.60,267.02 L217.01,267.21 L217.41,267.40 L217.82,267.58 L218.23,267.77 L218.64,267.95 L219.04,268.14 L219.45,268.33 L219.86,268.51 L220.27,268.70 L220.67,268.89 L221.08,269.07 L221.49,269.26 L221.90,269.44 L222.30,269.63 L222.71,269.82 L223.12,270.00 L223.53,270.19 L223.93,270.38 L224.34,270.56 L224.75,270.75 L225.16,270.93 L225.56,271.12 L225.97,271.31 L226.38,271.49 L226.79,271.68 L227.19,271.86 L227.60,272.05 L228.01,272.24 L228.42,272.42 L228.82,272.61 L229.23,272.80 L229.64,272.98 L230.05,273.17 L230.45,273.35 L230.86,273.54 L231.27,273.73 L231.68,273.91 L232.08,274.10 L232.49,274.28 L232.90,274.47" fill="none" stroke="#000" stroke-width="1.5" clip-path="url(#cj1)"/><path d="M151.80,231.77 L152.21,231.98 L152.62,232.20 L153.02,232.42 L153.43,232.64 L153.84,232.85 L154.25,233.07 L154.65,233.28 L155.06,233.49 L155.47,233.70 L155.88,233.91 L156.28,234.11 L156.69,234.32 L157.10,234.52 L157.51,234.71 L157.91,234.91 L158.32,235.10 L158.73,235.29 L159.14,235.47 L159.54,235.66 L159.95,235.84 L160.36,236.02 L160.77,236.20 L161.17,236.38 L161.58,236.56 L161.99,236.74 L162.40,236.91 L162.80,237.09 L163.21,237.27 L163.62,237.44 L164.03,237.62 L164.43,237.80 L164.84,237.98 L165.25,238.16 L165.66,238.34 L166.06,238.52 L166.47,238.71 L166.88,238.90 L167.29,239.09 L167.69,239.28 L168.10,239.47 L168.51,239.67 L168.92,239.86 L169.32,240.06 L169.73,240.26 L170.14,240.46 L170.55,240.66 L170.95,240.86 L171.36,241.06 L171.77,241.27 L172.18,241.47 L172.58,241.67 L172.99,241.88 L173.40,242.09 L173.81,242.29 L174.21,242.50 L174.62,242.71 L175.03,242.92 L175.44,243.12 L175.84,243.33 L176.25,243.54 L176.66,243.75 L177.07,243.95 L177.47,244.16 L177.88,244.37 L178.29,244.58 L178.70,244.78 L179.11,244.99 L179.51,245.19 L179.92,245.40 L180.33,245.60 L180.74,245.81 L181.14,246.01 L181.55,246.21 L181.96,246.41 L182.37,246.61 L182.77,246.81 L183.18,247.01 L183.59,247.21 L184.00,247.40 L184.40,247.60 L184.81,247.79 L185.22,247.99 L185.63,248.18 L186.03,248.37 L186.44,248.56 L186.85,248.75 L187.26,248.94 L187.66,249.12 L188.07,249.31 L188.48,249.49 L188.89,249.68 L189.29,249.86 L189.70,250.04 L190.11,250.22 L190.52,250.41 L190.92,250.59 L191.33,250.77 L191.74,250.95 L192.15,251.13 L192.55,251.31 L192.96,251.50 L193.37,251.68 L193.78,251.86 L194.18,252.05 L194.59,252.24 L195.00,252.42 L195.41,252.61 L195.81,252.80 L196.22,253.00 L196.63,253.19 L197.04,253.38 L197.44,253.58 L197.85,253.77 L198.26,253.97 L198.67,254.16 L199.07,254.36 L199.48,254.56 L199.89,254.75 L200.30,254.95 L200.70,255.15 L201.11,255.34 L201.52,255.54 L201.93,255.73 L202.33,255.93 L202.74,256.12 L203.15,256.31 L203.56,256.51 L203.96,256.70 L204.37,256.89 L204.78,257.08 L205.19,257.28 L205.59,257.47 L206.00,257.66 L206.41,257.86 L206.82,258.05 L207.23,258.25 L207.63,258.45 L208.04,258.65 L208.45,258.85 L208.86,259.05 L209.26,259.26 L209.67,259.47 L210.08,259.68 L210.49,259.89 L210.89,260.10 L211.30,260.31 L211.71,260.53 L212.12,260.74 L212.52,260.96 L212.93,261.17 L213.34,261.39 L213.75,261.60 L214.15,261.82 L214.56,262.03 L214.97,262.24 L215.38,262.45 L215.78,262.66 L216.19,262.86 L216.60,263.07 L217.01,263.27 L217.41,263.47 L217.82,263.67 L218.23,263.86 L218.64,264.06 L219.04,264.25 L219.45,264.44 L219.86,264.64 L220.27,264.83 L220.67,265.02 L221.08,265.21 L221.49,265.40 L221.90,265.59 L222.30,265.78 L222.71,265.97 L223.12,266.16 L223.53,266.35 L223.93,266.55 L224.34,266.74 L224.75,266.94 L225.16,267.13 L225.56,267.33 L225.97,267.53 L226.38,267.73 L226.79,267.93 L227.19,268.13 L227.60,268.33 L228.01,268.54 L228.42,268.74 L228.82,268.94 L229.23,269.14 L229.64,269.35 L230.05,269.55 L230.45,269.75 L230.86,269.96 L231.27,270.16 L231.68,270.36 L232.08,270.56 L232.49,270.76 L232.90,270.97" fill="none" stroke="#1a1aff" stroke-width="1.4" stroke-dasharray="8.1 6.8 1.2 7.5" clip-path="url(#cj1)"/><path d="M151.80,245.82 L152.21,245.99 L152.62,246.17 L153.02,246.34 L153.43,246.52 L153.84,246.69 L154.25,246.87 L154.65,247.04 L155.06,247.22 L155.47,247.39 L155.88,247.56 L156.28,247.74 L156.69,247.91 L157.10,248.08 L157.51,248.25 L157.91,248.42 L158.32,248.59 L158.73,248.76 L159.14,248.93 L159.54,249.10 L159.95,249.27 L160.36,249.44 L160.77,249.61 L161.17,249.79 L161.58,249.96 L161.99,250.13 L162.40,250.30 L162.80,250.48 L163.21,250.65 L163.62,250.83 L164.03,251.01 L164.43,251.18 L164.84,251.36 L165.25,251.54 L165.66,251.72 L166.06,251.91 L166.47,252.09 L166.88,252.27 L167.29,252.46 L167.69,252.64 L168.10,252.83 L168.51,253.02 L168.92,253.20 L169.32,253.39 L169.73,253.58 L170.14,253.77 L170.55,253.96 L170.95,254.15 L171.36,254.34 L171.77,254.53 L172.18,254.72 L172.58,254.92 L172.99,255.11 L173.40,255.30 L173.81,255.49 L174.21,255.68 L174.62,255.88 L175.03,256.07 L175.44,256.26 L175.84,256.45 L176.25,256.64 L176.66,256.84 L177.07,257.03 L177.47,257.22 L177.88,257.41 L178.29,257.60 L178.70,257.78 L179.11,257.97 L179.51,258.16 L179.92,258.35 L180.33,258.53 L180.74,258.72 L181.14,258.90 L181.55,259.08 L181.96,259.27 L182.37,259.45 L182.77,259.63 L183.18,259.81 L183.59,259.98 L184.00,260.16 L184.40,260.34 L184.81,260.51 L185.22,260.69 L185.63,260.86 L186.03,261.04 L186.44,261.21 L186.85,261.38 L187.26,261.55 L187.66,261.72 L188.07,261.89 L188.48,262.06 L188.89,262.23 L189.29,262.40 L189.70,262.57 L190.11,262.74 L190.52,262.91 L190.92,263.08 L191.33,263.25 L191.74,263.41 L192.15,263.58 L192.55,263.75 L192.96,263.92 L193.37,264.08 L193.78,264.25 L194.18,264.42 L194.59,264.58 L195.00,264.75 L195.41,264.92 L195.81,265.08 L196.22,265.25 L196.63,265.42 L197.04,265.59 L197.44,265.75 L197.85,265.92 L198.26,266.09 L198.67,266.26 L199.07,266.42 L199.48,266.59 L199.89,266.76 L200.30,266.93 L200.70,267.10 L201.11,267.26 L201.52,267.43 L201.93,267.60 L202.33,267.77 L202.74,267.93 L203.15,268.10 L203.56,268.26 L203.96,268.43 L204.37,268.59 L204.78,268.76 L205.19,268.92 L205.59,269.08 L206.00,269.24 L206.41,269.40 L206.82,269.56 L207.23,269.72 L207.63,269.87 L208.04,270.03 L208.45,270.18 L208.86,270.33 L209.26,270.49 L209.67,270.64 L210.08,270.79 L210.49,270.93 L210.89,271.08 L211.30,271.23 L211.71,271.37 L212.12,271.52 L212.52,271.66 L212.93,271.80 L213.34,271.94 L213.75,272.08 L214.15,272.22 L214.56,272.36 L214.97,272.50 L215.38,272.63 L215.78,272.77 L216.19,272.90 L216.60,273.04 L217.01,273.17 L217.41,273.30 L217.82,273.43 L218.23,273.56 L218.64,273.69 L219.04,273.82 L219.45,273.95 L219.86,274.08 L220.27,274.20 L220.67,274.33 L221.08,274.46 L221.49,274.58 L221.90,274.71 L222.30,274.83 L222.71,274.96 L223.12,275.08 L223.53,275.21 L223.93,275.34 L224.34,275.46 L224.75,275.59 L225.16,275.72 L225.56,275.84 L225.97,275.97 L226.38,276.10 L226.79,276.23 L227.19,276.37 L227.60,276.50 L228.01,276.63 L228.42,276.77 L228.82,276.90 L229.23,277.04 L229.64,277.17 L230.05,277.31 L230.45,277.44 L230.86,277.58 L231.27,277.71 L231.68,277.85 L232.08,277.98 L232.49,278.11 L232.90,278.24" fill="none" stroke="#ff2020" stroke-width="1.4" stroke-dasharray="5.6 6.5 1.3 7.1 1.3 6.8" clip-path="url(#cj1)"/><path d="M151.80,242.10 L152.21,242.28 L152.62,242.46 L153.02,242.65 L153.43,242.83 L153.84,243.01 L154.25,243.19 L154.65,243.37 L155.06,243.55 L155.47,243.73 L155.88,243.91 L156.28,244.09 L156.69,244.27 L157.10,244.45 L157.51,244.63 L157.91,244.81 L158.32,244.99 L158.73,245.17 L159.14,245.35 L159.54,245.53 L159.95,245.71 L160.36,245.89 L160.77,246.07 L161.17,246.25 L161.58,246.43 L161.99,246.61 L162.40,246.80 L162.80,246.98 L163.21,247.16 L163.62,247.34 L164.03,247.53 L164.43,247.71 L164.84,247.90 L165.25,248.08 L165.66,248.27 L166.06,248.45 L166.47,248.64 L166.88,248.83 L167.29,249.02 L167.69,249.21 L168.10,249.40 L168.51,249.59 L168.92,249.79 L169.32,249.98 L169.73,250.18 L170.14,250.37 L170.55,250.57 L170.95,250.77 L171.36,250.97 L171.77,251.18 L172.18,251.38 L172.58,251.58 L172.99,251.79 L173.40,251.99 L173.81,252.20 L174.21,252.41 L174.62,252.61 L175.03,252.82 L175.44,253.03 L175.84,253.24 L176.25,253.45 L176.66,253.65 L177.07,253.86 L177.47,254.07 L177.88,254.28 L178.29,254.48 L178.70,254.69 L179.11,254.89 L179.51,255.10 L179.92,255.30 L180.33,255.50 L180.74,255.70 L181.14,255.90 L181.55,256.10 L181.96,256.30 L182.37,256.49 L182.77,256.68 L183.18,256.87 L183.59,257.06 L184.00,257.25 L184.40,257.43 L184.81,257.62 L185.22,257.80 L185.63,257.97 L186.03,258.15 L186.44,258.32 L186.85,258.49 L187.26,258.65 L187.66,258.82 L188.07,258.98 L188.48,259.14 L188.89,259.30 L189.29,259.46 L189.70,259.62 L190.11,259.77 L190.52,259.94 L190.92,260.10 L191.33,260.26 L191.74,260.43 L192.15,260.60 L192.55,260.77 L192.96,260.94 L193.37,261.12 L193.78,261.30 L194.18,261.48 L194.59,261.66 L195.00,261.84 L195.41,262.02 L195.81,262.20 L196.22,262.39 L196.63,262.57 L197.04,262.75 L197.44,262.94 L197.85,263.12 L198.26,263.31 L198.67,263.49 L199.07,263.68 L199.48,263.86 L199.89,264.04 L200.30,264.22 L200.70,264.40 L201.11,264.58 L201.52,264.76 L201.93,264.93 L202.33,265.11 L202.74,265.28 L203.15,265.45 L203.56,265.61 L203.96,265.78 L204.37,265.95 L204.78,266.11 L205.19,266.27 L205.59,266.43 L206.00,266.60 L206.41,266.76 L206.82,266.92 L207.23,267.08 L207.63,267.24 L208.04,267.40 L208.45,267.57 L208.86,267.73 L209.26,267.89 L209.67,268.05 L210.08,268.21 L210.49,268.38 L210.89,268.54 L211.30,268.70 L211.71,268.86 L212.12,269.02 L212.52,269.19 L212.93,269.35 L213.34,269.51 L213.75,269.67 L214.15,269.83 L214.56,269.99 L214.97,270.15 L215.38,270.30 L215.78,270.46 L216.19,270.62 L216.60,270.78 L217.01,270.93 L217.41,271.09 L217.82,271.24 L218.23,271.39 L218.64,271.55 L219.04,271.70 L219.45,271.85 L219.86,272.00 L220.27,272.14 L220.67,272.29 L221.08,272.44 L221.49,272.59 L221.90,272.74 L222.30,272.88 L222.71,273.03 L223.12,273.18 L223.53,273.33 L223.93,273.48 L224.34,273.63 L224.75,273.78 L225.16,273.93 L225.56,274.09 L225.97,274.24 L226.38,274.40 L226.79,274.55 L227.19,274.71 L227.60,274.87 L228.01,275.03 L228.42,275.19 L228.82,275.35 L229.23,275.51 L229.64,275.67 L230.05,275.83 L230.45,275.99 L230.86,276.15 L231.27,276.31 L231.68,276.47 L232.08,276.63 L232.49,276.78 L232.90,276.94" fill="none" stroke="#22e022" stroke-width="1.4" stroke-dasharray="6.2 11.4" clip-path="url(#cj1)"/><rect x="151.90" y="230.30" width="78.60" height="52.60" fill="none" stroke="#000" stroke-width="1.5"/><line x1="149.40" y1="231.10" x2="151.90" y2="231.10" stroke="#000" stroke-width="1.3"/><text x="0" y="0" font-size="9.3" text-anchor="end" transform="translate(149.00,234.30) scale(1.0,1.13)" >-6</text><line x1="149.40" y1="249.80" x2="151.90" y2="249.80" stroke="#000" stroke-width="1.3"/><text x="0" y="0" font-size="9.3" text-anchor="end" transform="translate(149.00,253.00) scale(1.0,1.13)" >-8</text><line x1="149.40" y1="268.50" x2="151.90" y2="268.50" stroke="#000" stroke-width="1.3"/><text x="0" y="0" font-size="9.3" text-anchor="end" transform="translate(149.00,271.70) scale(1.0,1.13)" >-10</text><line x1="150.90" y1="240.45" x2="151.90" y2="240.45" stroke="#000" stroke-width="1.0"/><line x1="150.90" y1="259.15" x2="151.90" y2="259.15" stroke="#000" stroke-width="1.0"/><line x1="150.90" y1="277.85" x2="151.90" y2="277.85" stroke="#000" stroke-width="1.0"/><line x1="151.90" y1="282.90" x2="151.90" y2="285.40" stroke="#000" stroke-width="1.3"/><text x="0" y="0" font-size="9.3" text-anchor="middle" transform="translate(151.90,293.60) scale(1.0,1.13)" >18</text><line x1="191.20" y1="282.90" x2="191.20" y2="285.40" stroke="#000" stroke-width="1.3"/><text x="0" y="0" font-size="9.3" text-anchor="middle" transform="translate(191.20,293.60) scale(1.0,1.13)" >21</text><line x1="230.50" y1="282.90" x2="230.50" y2="285.40" stroke="#000" stroke-width="1.3"/><text x="0" y="0" font-size="9.3" text-anchor="middle" transform="translate(230.50,293.60) scale(1.0,1.13)" >24</text><line x1="171.55" y1="282.90" x2="171.55" y2="283.90" stroke="#000" stroke-width="1.0"/><line x1="210.85" y1="282.90" x2="210.85" y2="283.90" stroke="#000" stroke-width="1.0"/><path d="M275.70,310.80 L275.96,310.46 L276.21,310.12 L276.47,309.78 L276.72,309.44 L276.98,309.10 L277.23,308.76 L277.49,308.42 L277.74,308.08 L278.00,307.74 L278.25,307.41 L278.51,307.07 L278.76,306.74 L279.02,306.40 L279.27,306.07 L279.53,305.74 L279.78,305.41 L280.04,305.08 L280.29,304.76 L280.55,304.43 L280.81,304.11 L281.06,303.79 L281.32,303.47 L281.57,303.14 L281.83,302.82 L282.08,302.51 L282.34,302.19 L282.59,301.87 L282.85,301.55 L283.10,301.23 L283.36,300.91 L283.61,300.60 L283.87,300.28 L284.12,299.96 L284.38,299.64 L284.63,299.32 L284.89,299.00 L285.15,298.68 L285.40,298.37 L285.66,298.06 L285.91,297.76 L286.17,297.46 L286.42,297.18 L286.68,296.90 L286.93,296.63 L287.19,296.37 L287.44,296.12 L287.70,295.88 L287.95,295.66 L288.21,295.44 L288.46,295.24 L288.72,295.04 L288.97,294.85 L289.23,294.67 L289.48,294.49 L289.74,294.32 L290.00,294.16 L290.25,294.00 L290.51,293.84 L290.76,293.68 L291.02,293.53 L291.27,293.38 L291.53,293.23 L291.78,293.08 L292.04,292.92 L292.29,292.77 L292.55,292.61 L292.80,292.46 L293.06,292.30 L293.31,292.14 L293.57,291.98 L293.82,291.81 L294.08,291.65 L294.34,291.49 L294.59,291.33 L294.85,291.18 L295.10,291.02 L295.36,290.86 L295.61,290.71 L295.87,290.56 L296.12,290.41 L296.38,290.27 L296.63,290.12 L296.89,289.99 L297.14,289.85 L297.40,289.72 L297.65,289.59 L297.91,289.47 L298.16,289.35 L298.42,289.24 L298.67,289.12 L298.93,289.01 L299.19,288.90 L299.44,288.80 L299.70,288.69 L299.95,288.59 L300.21,288.49 L300.46,288.39 L300.72,288.29 L300.97,288.18 L301.23,288.08 L301.48,287.98 L301.74,287.88 L301.99,287.77 L302.25,287.67 L302.50,287.56 L302.76,287.46 L303.01,287.36 L303.27,287.26 L303.53,287.16 L303.78,287.07 L304.04,286.98 L304.29,286.89 L304.55,286.81 L304.80,286.74 L305.06,286.66 L305.31,286.59 L305.57,286.53 L305.82,286.47 L306.08,286.41 L306.33,286.36 L306.59,286.30 L306.84,286.26 L307.10,286.21 L307.35,286.17 L307.61,286.12 L307.86,286.08 L308.12,286.04 L308.38,286.01 L308.63,285.97 L308.89,285.94 L309.14,285.90 L309.40,285.87 L309.65,285.84 L309.91,285.80 L310.16,285.77 L310.42,285.74 L310.67,285.71 L310.93,285.68 L311.18,285.65 L311.44,285.62 L311.69,285.59 L311.95,285.56 L312.20,285.53 L312.46,285.50 L312.72,285.47 L312.97,285.44 L313.23,285.42 L313.48,285.39 L313.74,285.36 L313.99,285.33 L314.25,285.30 L314.50,285.28 L314.76,285.25 L315.01,285.22 L315.27,285.19 L315.52,285.16 L315.78,285.14 L316.03,285.11 L316.29,285.08 L316.54,285.06 L316.80,285.03 L317.05,285.01 L317.31,284.98 L317.57,284.96 L317.82,284.93 L318.08,284.91 L318.33,284.89 L318.59,284.87 L318.84,284.85 L319.10,284.83 L319.35,284.81 L319.61,284.79 L319.86,284.77 L320.12,284.76 L320.37,284.74 L320.63,284.73 L320.88,284.71 L321.14,284.70 L321.39,284.69 L321.65,284.68 L321.91,284.66 L322.16,284.65 L322.42,284.64 L322.67,284.63 L322.93,284.62 L323.18,284.61 L323.44,284.60 L323.69,284.59 L323.95,284.58 L324.20,284.57 L324.46,284.56 L324.71,284.55 L324.97,284.54 L325.22,284.53 L325.48,284.51 L325.73,284.50 L325.99,284.49 L326.24,284.48 L326.50,284.46" fill="none" stroke="#000" stroke-width="1.5" clip-path="url(#cj2)"/><path d="M275.70,329.80 L275.96,329.52 L276.21,329.24 L276.47,328.96 L276.72,328.69 L276.98,328.41 L277.23,328.13 L277.49,327.85 L277.74,327.57 L278.00,327.29 L278.25,327.01 L278.51,326.73 L278.76,326.44 L279.02,326.16 L279.27,325.88 L279.53,325.60 L279.78,325.31 L280.04,325.03 L280.29,324.74 L280.55,324.46 L280.81,324.17 L281.06,323.89 L281.32,323.60 L281.57,323.32 L281.83,323.03 L282.08,322.75 L282.34,322.46 L282.59,322.18 L282.85,321.89 L283.10,321.61 L283.36,321.33 L283.61,321.05 L283.87,320.77 L284.12,320.49 L284.38,320.21 L284.63,319.93 L284.89,319.66 L285.15,319.38 L285.40,319.11 L285.66,318.84 L285.91,318.57 L286.17,318.31 L286.42,318.04 L286.68,317.78 L286.93,317.52 L287.19,317.26 L287.44,317.01 L287.70,316.76 L287.95,316.51 L288.21,316.26 L288.46,316.01 L288.72,315.77 L288.97,315.53 L289.23,315.30 L289.48,315.06 L289.74,314.83 L290.00,314.61 L290.25,314.39 L290.51,314.17 L290.76,313.95 L291.02,313.74 L291.27,313.53 L291.53,313.32 L291.78,313.12 L292.04,312.92 L292.29,312.73 L292.55,312.54 L292.80,312.35 L293.06,312.17 L293.31,311.99 L293.57,311.81 L293.82,311.64 L294.08,311.47 L294.34,311.30 L294.59,311.13 L294.85,310.96 L295.10,310.80 L295.36,310.63 L295.61,310.47 L295.87,310.31 L296.12,310.15 L296.38,310.00 L296.63,309.84 L296.89,309.68 L297.14,309.52 L297.40,309.37 L297.65,309.21 L297.91,309.05 L298.16,308.89 L298.42,308.74 L298.67,308.58 L298.93,308.42 L299.19,308.26 L299.44,308.09 L299.70,307.93 L299.95,307.77 L300.21,307.61 L300.46,307.44 L300.72,307.28 L300.97,307.11 L301.23,306.94 L301.48,306.77 L301.74,306.60 L301.99,306.43 L302.25,306.26 L302.50,306.08 L302.76,305.91 L303.01,305.73 L303.27,305.55 L303.53,305.37 L303.78,305.19 L304.04,305.01 L304.29,304.83 L304.55,304.64 L304.80,304.45 L305.06,304.27 L305.31,304.08 L305.57,303.89 L305.82,303.70 L306.08,303.50 L306.33,303.31 L306.59,303.12 L306.84,302.93 L307.10,302.74 L307.35,302.55 L307.61,302.36 L307.86,302.17 L308.12,301.98 L308.38,301.80 L308.63,301.61 L308.89,301.43 L309.14,301.25 L309.40,301.07 L309.65,300.89 L309.91,300.71 L310.16,300.54 L310.42,300.37 L310.67,300.21 L310.93,300.04 L311.18,299.88 L311.44,299.73 L311.69,299.57 L311.95,299.42 L312.20,299.28 L312.46,299.13 L312.72,298.99 L312.97,298.86 L313.23,298.72 L313.48,298.59 L313.74,298.46 L313.99,298.33 L314.25,298.21 L314.50,298.08 L314.76,297.96 L315.01,297.85 L315.27,297.73 L315.52,297.61 L315.78,297.50 L316.03,297.38 L316.29,297.27 L316.54,297.16 L316.80,297.05 L317.05,296.94 L317.31,296.83 L317.57,296.73 L317.82,296.62 L318.08,296.51 L318.33,296.41 L318.59,296.30 L318.84,296.19 L319.10,296.09 L319.35,295.98 L319.61,295.88 L319.86,295.77 L320.12,295.67 L320.37,295.56 L320.63,295.46 L320.88,295.36 L321.14,295.25 L321.39,295.15 L321.65,295.05 L321.91,294.94 L322.16,294.84 L322.42,294.74 L322.67,294.63 L322.93,294.53 L323.18,294.43 L323.44,294.32 L323.69,294.22 L323.95,294.12 L324.20,294.02 L324.46,293.91 L324.71,293.81 L324.97,293.71 L325.22,293.60 L325.48,293.50 L325.73,293.40 L325.99,293.29 L326.24,293.19 L326.50,293.09" fill="none" stroke="#1a1aff" stroke-width="1.4" stroke-dasharray="8.1 6.8 1.2 7.5" clip-path="url(#cj2)"/><path d="M275.70,325.50 L275.96,325.06 L276.21,324.61 L276.47,324.17 L276.72,323.72 L276.98,323.27 L277.23,322.83 L277.49,322.38 L277.74,321.93 L278.00,321.48 L278.25,321.03 L278.51,320.57 L278.76,320.12 L279.02,319.66 L279.27,319.21 L279.53,318.75 L279.78,318.29 L280.04,317.82 L280.29,317.36 L280.55,316.89 L280.81,316.42 L281.06,315.94 L281.32,315.47 L281.57,314.99 L281.83,314.51 L282.08,314.02 L282.34,313.54 L282.59,313.05 L282.85,312.57 L283.10,312.08 L283.36,311.59 L283.61,311.11 L283.87,310.62 L284.12,310.14 L284.38,309.66 L284.63,309.19 L284.89,308.71 L285.15,308.24 L285.40,307.77 L285.66,307.31 L285.91,306.85 L286.17,306.40 L286.42,305.96 L286.68,305.52 L286.93,305.10 L287.19,304.68 L287.44,304.27 L287.70,303.87 L287.95,303.48 L288.21,303.11 L288.46,302.75 L288.72,302.40 L288.97,302.06 L289.23,301.73 L289.48,301.42 L289.74,301.11 L290.00,300.82 L290.25,300.53 L290.51,300.24 L290.76,299.96 L291.02,299.69 L291.27,299.42 L291.53,299.14 L291.78,298.87 L292.04,298.60 L292.29,298.32 L292.55,298.05 L292.80,297.78 L293.06,297.50 L293.31,297.23 L293.57,296.95 L293.82,296.68 L294.08,296.41 L294.34,296.14 L294.59,295.88 L294.85,295.61 L295.10,295.35 L295.36,295.10 L295.61,294.84 L295.87,294.59 L296.12,294.35 L296.38,294.11 L296.63,293.88 L296.89,293.65 L297.14,293.42 L297.40,293.21 L297.65,293.00 L297.91,292.79 L298.16,292.59 L298.42,292.39 L298.67,292.20 L298.93,292.01 L299.19,291.83 L299.44,291.66 L299.70,291.48 L299.95,291.31 L300.21,291.15 L300.46,290.99 L300.72,290.83 L300.97,290.68 L301.23,290.53 L301.48,290.38 L301.74,290.24 L301.99,290.10 L302.25,289.97 L302.50,289.83 L302.76,289.70 L303.01,289.57 L303.27,289.45 L303.53,289.33 L303.78,289.21 L304.04,289.09 L304.29,288.97 L304.55,288.86 L304.80,288.75 L305.06,288.64 L305.31,288.53 L305.57,288.42 L305.82,288.32 L306.08,288.22 L306.33,288.12 L306.59,288.02 L306.84,287.92 L307.10,287.83 L307.35,287.74 L307.61,287.65 L307.86,287.56 L308.12,287.48 L308.38,287.39 L308.63,287.31 L308.89,287.23 L309.14,287.15 L309.40,287.07 L309.65,287.00 L309.91,286.92 L310.16,286.85 L310.42,286.78 L310.67,286.71 L310.93,286.64 L311.18,286.58 L311.44,286.51 L311.69,286.45 L311.95,286.39 L312.20,286.33 L312.46,286.27 L312.72,286.22 L312.97,286.16 L313.23,286.11 L313.48,286.06 L313.74,286.01 L313.99,285.96 L314.25,285.91 L314.50,285.86 L314.76,285.82 L315.01,285.78 L315.27,285.73 L315.52,285.69 L315.78,285.65 L316.03,285.61 L316.29,285.57 L316.54,285.54 L316.80,285.50 L317.05,285.47 L317.31,285.43 L317.57,285.40 L317.82,285.37 L318.08,285.34 L318.33,285.31 L318.59,285.28 L318.84,285.25 L319.10,285.22 L319.35,285.19 L319.61,285.16 L319.86,285.14 L320.12,285.11 L320.37,285.09 L320.63,285.06 L320.88,285.04 L321.14,285.01 L321.39,284.99 L321.65,284.96 L321.91,284.94 L322.16,284.92 L322.42,284.89 L322.67,284.87 L322.93,284.85 L323.18,284.83 L323.44,284.80 L323.69,284.78 L323.95,284.76 L324.20,284.74 L324.46,284.71 L324.71,284.69 L324.97,284.67 L325.22,284.65 L325.48,284.62 L325.73,284.60 L325.99,284.57 L326.24,284.55 L326.50,284.52" fill="none" stroke="#ff2020" stroke-width="1.4" stroke-dasharray="5.6 6.5 1.3 7.1 1.3 6.8" clip-path="url(#cj2)"/><path d="M275.70,349.54 L275.96,349.14 L276.21,348.73 L276.47,348.33 L276.72,347.92 L276.98,347.50 L277.23,347.08 L277.49,346.65 L277.74,346.21 L278.00,345.76 L278.25,345.30 L278.51,344.83 L278.76,344.34 L279.02,343.84 L279.27,343.33 L279.53,342.81 L279.78,342.28 L280.04,341.74 L280.29,341.20 L280.55,340.65 L280.81,340.09 L281.06,339.53 L281.32,338.97 L281.57,338.40 L281.83,337.84 L282.08,337.27 L282.34,336.71 L282.59,336.15 L282.85,335.59 L283.10,335.03 L283.36,334.48 L283.61,333.94 L283.87,333.41 L284.12,332.88 L284.38,332.36 L284.63,331.86 L284.89,331.36 L285.15,330.88 L285.40,330.41 L285.66,329.95 L285.91,329.50 L286.17,329.07 L286.42,328.64 L286.68,328.23 L286.93,327.83 L287.19,327.43 L287.44,327.05 L287.70,326.67 L287.95,326.31 L288.21,325.95 L288.46,325.60 L288.72,325.26 L288.97,324.93 L289.23,324.60 L289.48,324.28 L289.74,323.97 L290.00,323.66 L290.25,323.36 L290.51,323.06 L290.76,322.77 L291.02,322.49 L291.27,322.21 L291.53,321.93 L291.78,321.66 L292.04,321.39 L292.29,321.12 L292.55,320.86 L292.80,320.59 L293.06,320.34 L293.31,320.08 L293.57,319.82 L293.82,319.57 L294.08,319.31 L294.34,319.06 L294.59,318.80 L294.85,318.55 L295.10,318.29 L295.36,318.04 L295.61,317.78 L295.87,317.52 L296.12,317.26 L296.38,317.00 L296.63,316.73 L296.89,316.46 L297.14,316.20 L297.40,315.93 L297.65,315.65 L297.91,315.38 L298.16,315.11 L298.42,314.83 L298.67,314.56 L298.93,314.28 L299.19,314.00 L299.44,313.72 L299.70,313.44 L299.95,313.16 L300.21,312.88 L300.46,312.60 L300.72,312.32 L300.97,312.04 L301.23,311.76 L301.48,311.47 L301.74,311.19 L301.99,310.91 L302.25,310.63 L302.50,310.35 L302.76,310.07 L303.01,309.79 L303.27,309.51 L303.53,309.24 L303.78,308.96 L304.04,308.69 L304.29,308.41 L304.55,308.14 L304.80,307.87 L305.06,307.60 L305.31,307.33 L305.57,307.06 L305.82,306.80 L306.08,306.53 L306.33,306.27 L306.59,306.01 L306.84,305.76 L307.10,305.50 L307.35,305.25 L307.61,305.00 L307.86,304.75 L308.12,304.51 L308.38,304.27 L308.63,304.03 L308.89,303.79 L309.14,303.56 L309.40,303.32 L309.65,303.09 L309.91,302.86 L310.16,302.64 L310.42,302.41 L310.67,302.19 L310.93,301.98 L311.18,301.76 L311.44,301.54 L311.69,301.33 L311.95,301.12 L312.20,300.92 L312.46,300.71 L312.72,300.51 L312.97,300.31 L313.23,300.11 L313.48,299.91 L313.74,299.72 L313.99,299.53 L314.25,299.34 L314.50,299.15 L314.76,298.97 L315.01,298.79 L315.27,298.61 L315.52,298.43 L315.78,298.25 L316.03,298.08 L316.29,297.90 L316.54,297.73 L316.80,297.56 L317.05,297.39 L317.31,297.23 L317.57,297.06 L317.82,296.90 L318.08,296.74 L318.33,296.57 L318.59,296.42 L318.84,296.26 L319.10,296.10 L319.35,295.94 L319.61,295.79 L319.86,295.63 L320.12,295.48 L320.37,295.33 L320.63,295.17 L320.88,295.02 L321.14,294.87 L321.39,294.72 L321.65,294.57 L321.91,294.42 L322.16,294.28 L322.42,294.13 L322.67,293.98 L322.93,293.83 L323.18,293.68 L323.44,293.53 L323.69,293.39 L323.95,293.24 L324.20,293.09 L324.46,292.94 L324.71,292.79 L324.97,292.65 L325.22,292.50 L325.48,292.35 L325.73,292.20 L325.99,292.05 L326.24,291.90 L326.50,291.75" fill="none" stroke="#22e022" stroke-width="1.4" stroke-dasharray="6.2 11.4" clip-path="url(#cj2)"/><rect x="275.80" y="278.50" width="47.50" height="77.60" fill="none" stroke="#000" stroke-width="1.5"/><line x1="273.30" y1="283.80" x2="275.80" y2="283.80" stroke="#000" stroke-width="1.3"/><text x="0" y="0" font-size="9.3" text-anchor="end" transform="translate(273.50,287.00) scale(1.0,1.13)" >0</text><line x1="273.30" y1="339.10" x2="275.80" y2="339.10" stroke="#000" stroke-width="1.3"/><text x="0" y="0" font-size="9.3" text-anchor="end" transform="translate(273.50,342.30) scale(1.0,1.13)" >-2</text><line x1="274.80" y1="311.45" x2="275.80" y2="311.45" stroke="#000" stroke-width="1.0"/><line x1="275.80" y1="356.10" x2="275.80" y2="358.60" stroke="#000" stroke-width="1.3"/><text x="0" y="0" font-size="9.3" text-anchor="middle" transform="translate(275.80,366.60) scale(1.0,1.13)" >45</text><line x1="299.55" y1="356.10" x2="299.55" y2="358.60" stroke="#000" stroke-width="1.3"/><text x="0" y="0" font-size="9.3" text-anchor="middle" transform="translate(299.55,366.60) scale(1.0,1.13)" >48</text><line x1="323.30" y1="356.10" x2="323.30" y2="358.60" stroke="#000" stroke-width="1.3"/><text x="0" y="0" font-size="9.3" text-anchor="middle" transform="translate(323.30,366.60) scale(1.0,1.13)" >51</text><line x1="287.68" y1="356.10" x2="287.68" y2="357.10" stroke="#000" stroke-width="1.0"/><line x1="311.43" y1="356.10" x2="311.43" y2="357.10" stroke="#000" stroke-width="1.0"/><path d="M58.40,330.80 H77.90" fill="none" stroke="#000" stroke-width="1.5"/><text x="0" y="0" font-size="8.3" text-anchor="start" transform="translate(79.20,333.70) scale(1.0,1.13)" >Original</text><path d="M58.40,341.30 H77.90" fill="none" stroke="#1a1aff" stroke-width="1.4" stroke-dasharray="6.6 3.1 1.2 3.0"/><text x="0" y="0" font-size="8.3" text-anchor="start" transform="translate(79.20,344.20) scale(1.0,1.13)" >Self-sputtering</text><path d="M58.40,351.80 H77.90" fill="none" stroke="#ff2020" stroke-width="1.4" stroke-dasharray="5 2.9 1.6 2.6 1.6 2.9"/><text x="0" y="0" font-size="8.3" text-anchor="start" transform="translate(79.20,354.70) scale(1.0,1.13)" >Temperature</text><path d="M58.40,362.30 H77.90" fill="none" stroke="#22e022" stroke-width="1.4" stroke-dasharray="5.8 5"/><text x="0" y="0" font-size="8.3" text-anchor="start" transform="translate(79.20,365.20) scale(1.0,1.13)" >Mixed</text><text x="0" y="0" font-size="17" text-anchor="start" transform="translate(1.20,217.00) scale(1.0,1.0)" >(b)</text><text x="0" y="0" font-size="13.2" text-anchor="middle" transform="translate(17.0,289.8) rotate(-90) scale(1,1.13)">Etching depth (mm)</text><text x="0" y="0" font-size="13.2" text-anchor="middle" transform="translate(195.50,408.40) scale(1.0,1.13)" >Target coordinate (mm)</text></svg></body></html>
